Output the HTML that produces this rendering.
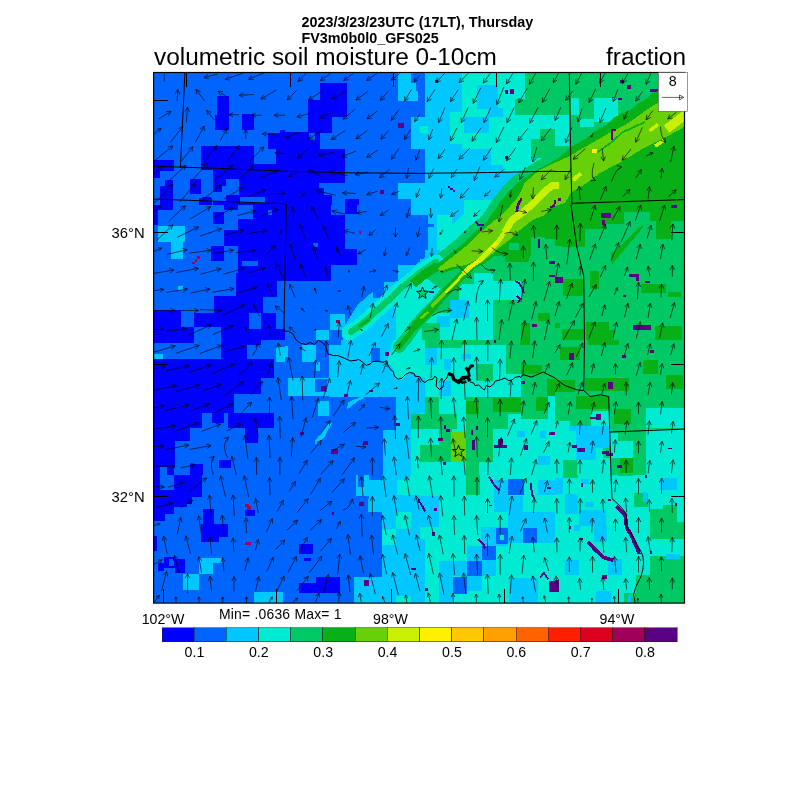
<!DOCTYPE html>
<html lang="en"><head><meta charset="utf-8"><title>volumetric soil moisture 0-10cm</title>
<style>
html,body{margin:0;padding:0;background:#fff;}
svg{display:block;font-family:"Liberation Sans",Arial,Helvetica,sans-serif;}
.t1{font-weight:bold;font-size:14.35px;}
.t2{font-size:24.4px;}
.lb{font-size:14.2px;}.ll{font-size:14.8px;}
</style></head><body>
<svg width="800" height="800" viewBox="0 0 800 800">
<rect width="800" height="800" fill="#fff"/>

<defs><clipPath id="mc"><rect x="153.5" y="72.5" width="531" height="530.5"/></clipPath></defs>
<g clip-path="url(#mc)" shape-rendering="crispEdges">
<rect x="150" y="70" width="135" height="135" fill="#0064ff"/>
<rect x="217.16" y="96.16" width="11.81" height="33.75" fill="#0000ff"/>
<rect x="214.97" y="114.72" width="2.53" height="15.19" fill="#0000ff"/>
<rect x="241.97" y="114.21" width="11.81" height="15.70" fill="#0000ff"/>
<rect x="201.13" y="146.28" width="52.65" height="23.28" fill="#0000ff"/>
<rect x="268.12" y="133.28" width="16.88" height="16.03" fill="#0000ff"/>
<rect x="279.94" y="129.91" width="5.06" height="3.37" fill="#0000ff"/>
<rect x="275.72" y="149.31" width="9.28" height="20.25" fill="#0000ff"/>
<rect x="253.78" y="163.66" width="21.94" height="5.90" fill="#0000ff"/>
<rect x="154.22" y="160.28" width="19.40" height="10.97" fill="#0000ff"/>
<rect x="154.22" y="171.25" width="5.90" height="6.75" fill="#0000ff"/>
<rect x="160.12" y="179.69" width="12.66" height="25.31" fill="#0000ff"/>
<rect x="212.94" y="169.56" width="72.06" height="35.44" fill="#0000ff"/>
<rect x="212.94" y="186.44" width="13.00" height="14.34" fill="#0064ff"/>
<rect x="225.94" y="178.84" width="12.65" height="16.04" fill="#0064ff"/>
<rect x="240.28" y="196.9" width="24.47" height="6.41" fill="#0064ff"/>
<rect x="189.66" y="178.84" width="10.96" height="15.19" fill="#0000ff"/>
<rect x="213.28" y="185.59" width="8.44" height="6.75" fill="#0000ff"/>
<rect x="202.31" y="197.41" width="8.44" height="5.90" fill="#0000ff"/>
<rect x="198.94" y="198.25" width="13.50" height="6.75" fill="#0000ff"/>
<rect x="160.12" y="179.69" width="5.07" height="6.75" fill="#0064ff"/>
<rect x="269.81" y="151" width="5.91" height="11.81" fill="#0064ff"/>
<rect x="285" y="70" width="135" height="135" fill="#0064ff"/>
<rect x="319.93" y="83.16" width="27.17" height="16.37" fill="#0000ff"/>
<rect x="308.12" y="99.53" width="38.98" height="17.72" fill="#0000ff"/>
<rect x="308.12" y="117.25" width="23.79" height="16.03" fill="#0000ff"/>
<rect x="285" y="131.59" width="23.12" height="73.41" fill="#0000ff"/>
<rect x="308.12" y="133.28" width="11.81" height="16.03" fill="#0000ff"/>
<rect x="308.12" y="149.31" width="36.79" height="33.75" fill="#0000ff"/>
<rect x="285" y="183.06" width="33.75" height="21.94" fill="#0000ff"/>
<rect x="318.75" y="188.12" width="5.06" height="16.88" fill="#0000ff"/>
<rect x="323.81" y="194.88" width="8.44" height="10.12" fill="#0000ff"/>
<rect x="344.91" y="199.09" width="14.34" height="5.91" fill="#0000ff"/>
<rect x="397.73" y="73.04" width="12.99" height="28.18" fill="#00c8ff"/>
<rect x="410.72" y="83.16" width="5.06" height="18.06" fill="#00c8ff"/>
<rect x="415.78" y="91.09" width="2.53" height="10.13" fill="#00c8ff"/>
<rect x="410.72" y="117.25" width="9.28" height="31.72" fill="#00c8ff"/>
<rect x="397.73" y="183.06" width="22.27" height="16.03" fill="#00c8ff"/>
<rect x="410.72" y="199.09" width="9.28" height="5.91" fill="#00c8ff"/>
<rect x="398.06" y="123.16" width="5.91" height="5.06" fill="#5a0082"/>
<rect x="379.84" y="190.15" width="3.88" height="3.88" fill="#5a0082"/>
<rect x="308.62" y="133.28" width="6.76" height="6.75" fill="#0064ff"/>
<rect x="420" y="70" width="135" height="135" fill="#00c8ff"/>
<rect x="420" y="73.04" width="5.06" height="44.21" fill="#0064ff"/>
<rect x="420" y="149.31" width="5.06" height="33.75" fill="#0064ff"/>
<rect x="461.85" y="73.04" width="93.15" height="98.21" fill="#00ebd2"/>
<rect x="476.53" y="85.19" width="21.94" height="23.62" fill="#00c8ff"/>
<rect x="487.5" y="107.97" width="15.19" height="9.28" fill="#00c8ff"/>
<rect x="464.21" y="117.25" width="24.64" height="16.03" fill="#00c8ff"/>
<rect x="458.81" y="149.31" width="32.07" height="21.94" fill="#00c8ff"/>
<rect x="490.88" y="164.5" width="11.81" height="18.56" fill="#00c8ff"/>
<rect x="450.38" y="112.19" width="13.83" height="32.06" fill="#00ebd2"/>
<rect x="420" y="125.69" width="7.59" height="7.59" fill="#00ebd2"/>
<rect x="464.21" y="199.94" width="26.67" height="5.06" fill="#00ebd2"/>
<rect x="524.62" y="73.04" width="30.38" height="25.65" fill="#00c864"/>
<rect x="515.34" y="98.69" width="39.66" height="16.03" fill="#00c864"/>
<rect x="530.53" y="139.19" width="24.47" height="18.56" fill="#00c864"/>
<rect x="539.81" y="129.06" width="15.19" height="10.13" fill="#00c864"/>
<rect x="435.19" y="80.12" width="3.04" height="3.04" fill="#5a0082"/>
<rect x="505.22" y="90.25" width="2.53" height="3.37" fill="#5a0082"/>
<rect x="510.28" y="89.41" width="3.38" height="4.21" fill="#5a0082"/>
<rect x="505.22" y="156.06" width="2.87" height="2.53" fill="#5a0082"/>
<rect x="447.84" y="186.44" width="2.54" height="1.68" fill="#5a0082"/>
<rect x="450.38" y="188.12" width="2.53" height="2.03" fill="#5a0082"/>
<rect x="452.91" y="189.81" width="2.19" height="2.03" fill="#5a0082"/>
<rect x="555" y="70" width="135" height="135" fill="#00c864"/>
<rect x="571.03" y="97.84" width="8.44" height="16.88" fill="#00ebd2"/>
<rect x="593.81" y="97.84" width="24.47" height="24.47" fill="#00ebd2"/>
<rect x="555" y="114.72" width="13.50" height="31.22" fill="#00ebd2"/>
<rect x="580.31" y="118.94" width="13.50" height="8.44" fill="#00ebd2"/>
<rect x="619.97" y="80.12" width="4.22" height="2.54" fill="#5a0082"/>
<rect x="626.72" y="85.19" width="4.22" height="3.37" fill="#5a0082"/>
<rect x="650.34" y="89.41" width="7.60" height="2.53" fill="#5a0082"/>
<rect x="618.28" y="97.84" width="3.38" height="2.54" fill="#5a0082"/>
<rect x="150" y="205" width="135" height="135" fill="#0064ff"/>
<rect x="154.22" y="205" width="18.56" height="5.06" fill="#0000ff"/>
<rect x="154.22" y="210.06" width="3.37" height="15.19" fill="#0000ff"/>
<rect x="224.25" y="205" width="13.50" height="5.06" fill="#0000ff"/>
<rect x="213.28" y="211.75" width="10.97" height="11.81" fill="#0000ff"/>
<rect x="252.94" y="205" width="32.06" height="13.50" fill="#0000ff"/>
<rect x="237.75" y="218.5" width="47.25" height="62.44" fill="#0000ff"/>
<rect x="224.25" y="230.31" width="13.50" height="15.19" fill="#0000ff"/>
<rect x="210.75" y="245.5" width="13.50" height="15.19" fill="#0000ff"/>
<rect x="241.97" y="260.69" width="16.03" height="5.06" fill="#0064ff"/>
<rect x="236.06" y="272.5" width="48.94" height="40.50" fill="#0000ff"/>
<rect x="214.12" y="296.12" width="21.94" height="16.88" fill="#0000ff"/>
<rect x="154.22" y="309.62" width="27.00" height="30.38" fill="#0000ff"/>
<rect x="193.88" y="313" width="55.68" height="13.50" fill="#0000ff"/>
<rect x="220.88" y="326.5" width="40.50" height="13.50" fill="#0000ff"/>
<rect x="181.22" y="326.5" width="12.66" height="13.50" fill="#0000ff"/>
<rect x="261.38" y="313" width="14.34" height="16.03" fill="#0000ff"/>
<rect x="276.56" y="280.94" width="8.44" height="32.06" fill="#0064ff"/>
<rect x="263.06" y="296.97" width="13.50" height="16.03" fill="#0064ff"/>
<rect x="248.72" y="313" width="12.66" height="16.03" fill="#0064ff"/>
<rect x="275.72" y="313" width="9.28" height="16.88" fill="#0064ff"/>
<rect x="261.38" y="329.03" width="23.62" height="10.97" fill="#0000ff"/>
<rect x="157.59" y="226.09" width="27.34" height="16.03" fill="#00c8ff"/>
<rect x="171.09" y="242.12" width="11.82" height="16.88" fill="#00c8ff"/>
<rect x="177.84" y="286" width="5.07" height="4.22" fill="#00c8ff"/>
<rect x="197.25" y="256.47" width="2.53" height="2.53" fill="#a0005a"/>
<rect x="194.72" y="259" width="2.53" height="2.53" fill="#a0005a"/>
<rect x="191.85" y="262.04" width="2.87" height="2.36" fill="#a0005a"/>
<rect x="268.12" y="210.06" width="4.22" height="5.06" fill="#0064ff"/>
<rect x="285" y="205" width="135" height="135" fill="#0064ff"/>
<rect x="285" y="205" width="46.41" height="75.94" fill="#0000ff"/>
<rect x="331.41" y="215.12" width="13.50" height="49.79" fill="#0000ff"/>
<rect x="344.91" y="248.88" width="12.32" height="16.03" fill="#0000ff"/>
<rect x="344.91" y="205" width="12.32" height="9.28" fill="#0000ff"/>
<rect x="312.84" y="243.47" width="5.07" height="3.38" fill="#0064ff"/>
<rect x="410.72" y="205" width="9.28" height="10.12" fill="#00c8ff"/>
<rect x="397.73" y="264.91" width="22.27" height="17.71" fill="#00c8ff"/>
<rect x="384.56" y="282.62" width="13.50" height="14.35" fill="#00c8ff"/>
<rect x="329.72" y="313.84" width="15.19" height="16.04" fill="#00c8ff"/>
<rect x="316.22" y="329.88" width="12.66" height="10.12" fill="#00c8ff"/>
<rect x="358.91" y="230.82" width="2.03" height="3.21" fill="#a0005a"/>
<rect x="335.96" y="320.09" width="4.39" height="2.70" fill="#a0005a"/>
<rect x="420" y="205" width="135" height="135" fill="#00c864"/>
<polygon points="420,205 492.56,205 484.12,223.56 470.62,238.75 453.75,248.88 436.88,260.69 420,269.12" fill="#00c8ff"/>
<rect x="420" y="215.12" width="7.59" height="43.88" fill="#0064ff"/>
<rect x="427.59" y="223.56" width="6.75" height="3.38" fill="#0064ff"/>
<rect x="436.88" y="215.12" width="15.18" height="45.57" fill="#00ebd2"/>
<rect x="463.88" y="205" width="28.68" height="10.12" fill="#00ebd2"/>
<rect x="463.88" y="215.12" width="11.81" height="23.63" fill="#00ebd2"/>
<polygon points="420,260.69 453.75,247.19 475.69,226.94 487.5,215.12 492.56,215.12 475.69,238.75 453.75,253.94 420,272.5" fill="#00ebd2"/>
<rect x="492.56" y="280.94" width="28.69" height="18.56" fill="#00ebd2"/>
<rect x="458.81" y="284.31" width="33.75" height="55.69" fill="#00ebd2"/>
<rect x="420" y="313" width="38.81" height="27.00" fill="#00ebd2"/>
<rect x="450.38" y="299.5" width="18.56" height="18.56" fill="#00c8ff"/>
<rect x="474" y="272.5" width="18.56" height="11.81" fill="#00ebd2"/>
<rect x="436.88" y="316.38" width="13.50" height="10.12" fill="#00c8ff"/>
<rect x="521.25" y="323.12" width="8.44" height="16.88" fill="#06b016"/>
<rect x="538.12" y="313" width="11.82" height="7.59" fill="#06b016"/>
<rect x="528" y="215.12" width="27.00" height="23.63" fill="#06b016"/>
<rect x="521.25" y="221.88" width="16.87" height="25.31" fill="#06b016"/>
<rect x="420" y="323.12" width="20.25" height="16.88" fill="#00c864"/>
<rect x="555" y="205" width="135" height="135" fill="#00c864"/>
<rect x="555" y="205" width="129.60" height="6.75" fill="#06b016"/>
<rect x="555" y="211.75" width="69.19" height="11.81" fill="#06b016"/>
<rect x="555" y="223.56" width="50.62" height="5.91" fill="#06b016"/>
<rect x="555" y="229.47" width="30.38" height="17.72" fill="#06b016"/>
<rect x="555" y="247.19" width="6.75" height="13.50" fill="#06b016"/>
<rect x="649.5" y="211.75" width="35.10" height="9.28" fill="#06b016"/>
<rect x="656.25" y="221.03" width="15.19" height="17.72" fill="#06b016"/>
<polygon points="610.69,260.69 610.69,253.94 622.5,243.81 642.75,224.41 642.75,227.78 629.25,243.81 612.38,264.06" fill="#06b016"/>
<rect x="590.44" y="270.81" width="8.44" height="18.57" fill="#06b016"/>
<rect x="563.44" y="279.25" width="20.25" height="16.87" fill="#06b016"/>
<rect x="641.06" y="284.31" width="24.47" height="8.44" fill="#06b016"/>
<rect x="668.06" y="291.91" width="12.66" height="5.06" fill="#06b016"/>
<rect x="561.75" y="329.03" width="21.94" height="10.97" fill="#06b016"/>
<rect x="586.22" y="322.28" width="22.78" height="7.60" fill="#06b016"/>
<rect x="586.22" y="329.88" width="27.84" height="10.12" fill="#06b016"/>
<rect x="654.56" y="325.66" width="27.00" height="14.34" fill="#06b016"/>
<rect x="555" y="323.12" width="5.06" height="5.07" fill="#06b016"/>
<rect x="601.41" y="212.59" width="9.28" height="5.07" fill="#5a0082"/>
<rect x="602.25" y="220.19" width="2.53" height="5.06" fill="#5a0082"/>
<rect x="555" y="276.72" width="7.59" height="6.75" fill="#5a0082"/>
<rect x="629.25" y="274.19" width="10.13" height="2.53" fill="#5a0082"/>
<rect x="636" y="276.72" width="3.38" height="4.22" fill="#5a0082"/>
<rect x="645.28" y="280.94" width="5.06" height="2.53" fill="#5a0082"/>
<rect x="622.5" y="295.28" width="3.38" height="1.69" fill="#5a0082"/>
<rect x="633.47" y="324.81" width="17.72" height="5.07" fill="#5a0082"/>
<rect x="671.44" y="205" width="5.06" height="2.53" fill="#5a0082"/>
<rect x="150" y="340" width="135" height="135" fill="#0064ff"/>
<rect x="154.22" y="340" width="39.66" height="3.04" fill="#0000ff"/>
<rect x="220.88" y="340" width="40.50" height="21.94" fill="#0000ff"/>
<rect x="247.03" y="345.06" width="14.35" height="16.88" fill="#0064ff"/>
<rect x="154.22" y="358.56" width="119.81" height="35.44" fill="#0000ff"/>
<rect x="260.53" y="377.97" width="13.50" height="16.03" fill="#0064ff"/>
<rect x="154.22" y="394" width="79.31" height="18.56" fill="#0000ff"/>
<rect x="154.22" y="412.56" width="48.09" height="15.19" fill="#0000ff"/>
<rect x="154.22" y="427.75" width="35.44" height="13.50" fill="#0000ff"/>
<rect x="154.22" y="441.25" width="21.09" height="33.75" fill="#0000ff"/>
<rect x="227.62" y="412.56" width="46.41" height="15.19" fill="#0000ff"/>
<rect x="245.34" y="427.75" width="12.66" height="15.19" fill="#0000ff"/>
<rect x="212.44" y="412.56" width="11.81" height="10.13" fill="#0000ff"/>
<rect x="219.19" y="459.81" width="11.81" height="8.44" fill="#0000ff"/>
<rect x="189.66" y="464.03" width="13.50" height="10.97" fill="#0000ff"/>
<rect x="173.62" y="468.25" width="16.04" height="6.75" fill="#0064ff"/>
<rect x="160.12" y="466.56" width="6.76" height="8.44" fill="#0064ff"/>
<rect x="275.72" y="346.75" width="9.28" height="15.19" fill="#00c8ff"/>
<rect x="154.22" y="354.34" width="8.44" height="4.22" fill="#00c8ff"/>
<rect x="285" y="340" width="135" height="135" fill="#0064ff"/>
<rect x="328.88" y="340" width="67.50" height="56.53" fill="#00c8ff"/>
<rect x="396.38" y="340" width="23.62" height="135.00" fill="#00c8ff"/>
<rect x="288.38" y="377.97" width="40.50" height="17.72" fill="#00c8ff"/>
<rect x="301.88" y="345.06" width="14.34" height="16.88" fill="#00c8ff"/>
<rect x="316.22" y="361.94" width="4.22" height="9.28" fill="#00c8ff"/>
<rect x="382.88" y="430.28" width="13.50" height="44.72" fill="#00c8ff"/>
<rect x="285" y="345.91" width="3.38" height="10.97" fill="#00c8ff"/>
<rect x="315.38" y="378.81" width="11.81" height="13.50" fill="#0064ff"/>
<rect x="371.06" y="348.44" width="8.44" height="13.50" fill="#0064ff"/>
<rect x="328.88" y="340" width="11.81" height="5.06" fill="#0064ff"/>
<polygon points="346.59,410.03 348.28,402.44 366,394 379.5,383.03 386.25,396.53 366,396.53 355.88,402.44" fill="#00c8ff"/>
<polygon points="315.38,444.62 315.38,440.41 327.19,424.38 332.25,422.69 323.81,437.88" fill="#00c8ff"/>
<rect x="317.91" y="400.75" width="10.97" height="15.19" fill="#00c8ff"/>
<polygon points="393,340 420,340 420,376.28 409.88,372.06 401.44,379.66 394.69,377.12 393,367 386.25,361.94 389.62,353.5" fill="#00ebd2"/>
<rect x="410.72" y="429.44" width="9.28" height="45.56" fill="#00ebd2"/>
<rect x="411.23" y="414.25" width="8.77" height="15.19" fill="#00c864"/>
<rect x="331.41" y="448.84" width="6.75" height="5.07" fill="#5a0082"/>
<rect x="363.47" y="441.25" width="4.22" height="3.37" fill="#5a0082"/>
<rect x="384.56" y="351.81" width="4.22" height="4.22" fill="#5a0082"/>
<rect x="321.28" y="386.41" width="5.06" height="4.21" fill="#5a0082"/>
<rect x="344.06" y="394" width="4.22" height="2.53" fill="#5a0082"/>
<rect x="369.38" y="389.78" width="3.37" height="2.53" fill="#5a0082"/>
<rect x="396.38" y="422.69" width="3.37" height="3.37" fill="#5a0082"/>
<rect x="300.19" y="431.97" width="3.37" height="2.53" fill="#5a0082"/>
<rect x="420" y="340" width="135" height="135" fill="#00ebd2"/>
<rect x="425.06" y="340" width="37.13" height="7.59" fill="#00c864"/>
<rect x="462.19" y="340" width="43.87" height="5.06" fill="#00c864"/>
<rect x="506.06" y="340" width="48.94" height="25.31" fill="#00c864"/>
<rect x="477.38" y="363.62" width="15.18" height="16.88" fill="#00c864"/>
<rect x="521.25" y="365.31" width="33.75" height="30.38" fill="#00c864"/>
<rect x="506.06" y="365.31" width="15.19" height="8.44" fill="#00c864"/>
<rect x="425.06" y="396.53" width="13.50" height="17.72" fill="#00c864"/>
<rect x="420" y="414.25" width="37.12" height="15.19" fill="#00c864"/>
<rect x="438.56" y="429.44" width="13.50" height="32.06" fill="#00c864"/>
<rect x="420" y="444.62" width="18.56" height="16.88" fill="#00c864"/>
<rect x="465.56" y="396.53" width="27.00" height="64.97" fill="#00c864"/>
<rect x="492.56" y="396.53" width="28.69" height="17.72" fill="#00c864"/>
<rect x="465.56" y="461.5" width="13.50" height="13.50" fill="#00c864"/>
<rect x="492.56" y="414.25" width="15.19" height="15.19" fill="#00c864"/>
<rect x="521.25" y="395.69" width="27.00" height="23.62" fill="#00c864"/>
<rect x="466.41" y="400.75" width="12.65" height="13.50" fill="#06b016"/>
<rect x="492.56" y="396.53" width="28.69" height="15.19" fill="#06b016"/>
<rect x="535.59" y="396.53" width="12.66" height="14.35" fill="#06b016"/>
<rect x="521.25" y="365.31" width="20.25" height="8.44" fill="#06b016"/>
<rect x="547.41" y="378.81" width="7.59" height="16.88" fill="#06b016"/>
<rect x="519.56" y="340" width="10.13" height="5.06" fill="#06b016"/>
<rect x="451.22" y="431.97" width="14.34" height="29.53" fill="#68d008"/>
<rect x="425.06" y="348.44" width="11.82" height="16.87" fill="#00c8ff"/>
<rect x="443.62" y="358.56" width="7.60" height="11.82" fill="#00c8ff"/>
<rect x="420" y="377.97" width="5.06" height="35.44" fill="#00c8ff"/>
<rect x="438.56" y="380.5" width="12.66" height="15.19" fill="#00c8ff"/>
<rect x="460.5" y="353.5" width="10.12" height="5.06" fill="#00c8ff"/>
<rect x="538.12" y="456.44" width="11.82" height="8.44" fill="#00c8ff"/>
<rect x="517.03" y="431.12" width="7.59" height="5.91" fill="#00c8ff"/>
<rect x="539.81" y="431.12" width="5.91" height="6.76" fill="#00c8ff"/>
<rect x="444.47" y="425.22" width="1.69" height="4.22" fill="#5a0082"/>
<rect x="446.16" y="428.59" width="4.22" height="3.89" fill="#5a0082"/>
<rect x="437.72" y="437.88" width="5.06" height="3.03" fill="#5a0082"/>
<rect x="471.47" y="430.28" width="1.69" height="4.22" fill="#5a0082"/>
<rect x="475.69" y="426.06" width="2.53" height="4.22" fill="#5a0082"/>
<rect x="472.31" y="439.56" width="2.53" height="10.13" fill="#5a0082"/>
<rect x="494.25" y="445.47" width="12.66" height="2.53" fill="#5a0082"/>
<rect x="498.47" y="438.72" width="4.22" height="6.75" fill="#5a0082"/>
<rect x="521.25" y="381.34" width="4.22" height="2.54" fill="#5a0082"/>
<rect x="523.78" y="445.47" width="4.22" height="4.22" fill="#5a0082"/>
<rect x="549.09" y="432.48" width="5.91" height="2.02" fill="#5a0082"/>
<rect x="494.25" y="340" width="1.69" height="2.53" fill="#5a0082"/>
<rect x="442.78" y="462.34" width="3.38" height="2.54" fill="#5a0082"/>
<rect x="555" y="340" width="135" height="135" fill="#00c864"/>
<rect x="587.91" y="340" width="31.21" height="5.06" fill="#06b016"/>
<rect x="560.06" y="346.75" width="20.25" height="13.50" fill="#06b016"/>
<rect x="585.38" y="377.97" width="43.87" height="12.65" fill="#06b016"/>
<rect x="555" y="379.66" width="20.25" height="12.65" fill="#06b016"/>
<rect x="576.09" y="395.69" width="32.91" height="13.50" fill="#06b016"/>
<rect x="614.06" y="409.19" width="16.88" height="15.19" fill="#06b016"/>
<rect x="642.75" y="360.25" width="15.19" height="13.50" fill="#06b016"/>
<rect x="666.38" y="375.44" width="16.87" height="13.50" fill="#06b016"/>
<rect x="619.97" y="458.12" width="12.65" height="15.19" fill="#06b016"/>
<rect x="555" y="427.75" width="55.69" height="47.25" fill="#00ebd2"/>
<rect x="591.28" y="410.88" width="17.72" height="16.87" fill="#00ebd2"/>
<rect x="646.12" y="407.5" width="38.48" height="20.25" fill="#00ebd2"/>
<rect x="646.12" y="429.44" width="38.48" height="45.56" fill="#00ebd2"/>
<rect x="610.69" y="432.81" width="7.59" height="25.31" fill="#00ebd2"/>
<rect x="618.28" y="441.25" width="14.34" height="16.87" fill="#00ebd2"/>
<rect x="555" y="421" width="15.19" height="6.75" fill="#00ebd2"/>
<rect x="563.44" y="459.81" width="13.50" height="15.19" fill="#00c864"/>
<rect x="603.09" y="442.94" width="7.60" height="15.18" fill="#00c864"/>
<rect x="569.34" y="426.06" width="39.66" height="5.06" fill="#00c8ff"/>
<rect x="576.09" y="431.12" width="32.91" height="16.88" fill="#00c8ff"/>
<rect x="576.09" y="448" width="20.25" height="11.81" fill="#00c8ff"/>
<rect x="569.34" y="352.66" width="4.22" height="7.59" fill="#5a0082"/>
<rect x="621.66" y="355.19" width="4.22" height="3.04" fill="#5a0082"/>
<rect x="649.5" y="350.12" width="4.22" height="2.54" fill="#5a0082"/>
<rect x="608.16" y="382.19" width="5.06" height="6.75" fill="#5a0082"/>
<rect x="590.44" y="416.78" width="6.75" height="2.53" fill="#5a0082"/>
<rect x="595.5" y="414.25" width="5.91" height="5.91" fill="#5a0082"/>
<rect x="571.88" y="444.62" width="5.06" height="3.38" fill="#5a0082"/>
<rect x="576.94" y="448" width="7.59" height="4.22" fill="#5a0082"/>
<rect x="602.25" y="451.38" width="6.75" height="2.53" fill="#5a0082"/>
<rect x="606.47" y="453.06" width="6.75" height="3.38" fill="#5a0082"/>
<rect x="617.44" y="464.88" width="4.22" height="3.37" fill="#5a0082"/>
<rect x="668.06" y="447.66" width="3.71" height="1.35" fill="#5a0082"/>
<rect x="150" y="475" width="135" height="135" fill="#0064ff"/>
<rect x="154.22" y="475" width="5.90" height="15.19" fill="#0000ff"/>
<rect x="174.47" y="475" width="27.84" height="21.94" fill="#0000ff"/>
<rect x="154.22" y="490.19" width="32.90" height="16.87" fill="#0000ff"/>
<rect x="154.22" y="507.06" width="19.40" height="6.75" fill="#0000ff"/>
<rect x="154.22" y="513.81" width="10.97" height="6.75" fill="#0000ff"/>
<rect x="187.12" y="496.94" width="5.07" height="6.75" fill="#0000ff"/>
<rect x="203.16" y="508.75" width="10.96" height="15.19" fill="#0000ff"/>
<rect x="200.62" y="523.94" width="27.00" height="13.50" fill="#0000ff"/>
<rect x="201.47" y="537.44" width="17.72" height="4.22" fill="#0000ff"/>
<rect x="244.5" y="509.59" width="10.12" height="5.91" fill="#0000ff"/>
<rect x="164.34" y="556.84" width="10.97" height="10.97" fill="#0000ff"/>
<rect x="175.31" y="559.38" width="9.28" height="13.50" fill="#0000ff"/>
<rect x="157.59" y="562.75" width="6.75" height="8.44" fill="#0000ff"/>
<rect x="168.56" y="559.38" width="4.22" height="4.21" fill="#0064ff"/>
<rect x="154.22" y="535.75" width="2.53" height="15.19" fill="#0000ff"/>
<rect x="168.56" y="561.06" width="5.06" height="5.06" fill="#0064ff"/>
<rect x="198.94" y="557.69" width="14.34" height="16.03" fill="#00c8ff"/>
<rect x="213.28" y="557.69" width="8.44" height="5.06" fill="#00c8ff"/>
<rect x="182.91" y="574.06" width="16.03" height="15.69" fill="#00c8ff"/>
<rect x="253.78" y="592.28" width="29.53" height="10.97" fill="#00c8ff"/>
<rect x="244.5" y="503.69" width="4.22" height="3.37" fill="#a0005a"/>
<rect x="247.03" y="506.22" width="4.22" height="3.37" fill="#a0005a"/>
<rect x="245.34" y="542.16" width="5.40" height="2.36" fill="#a0005a"/>
<rect x="285" y="475" width="135" height="135" fill="#0064ff"/>
<rect x="299.34" y="544.19" width="13.50" height="10.12" fill="#0000ff"/>
<rect x="304.41" y="557.69" width="6.75" height="3.37" fill="#0000ff"/>
<rect x="299.34" y="583" width="40.50" height="10.12" fill="#0000ff"/>
<rect x="316.22" y="577.09" width="23.62" height="5.91" fill="#0000ff"/>
<rect x="355.88" y="475" width="13.50" height="21.09" fill="#00c8ff"/>
<rect x="369.38" y="480.06" width="50.62" height="32.06" fill="#00c8ff"/>
<rect x="382.03" y="475" width="27.85" height="5.06" fill="#00c8ff"/>
<rect x="367.69" y="498.62" width="52.31" height="13.50" fill="#00c8ff"/>
<rect x="382.03" y="512.12" width="37.97" height="91.13" fill="#00c8ff"/>
<rect x="354.19" y="577.09" width="27.84" height="26.16" fill="#00c8ff"/>
<rect x="358.41" y="475" width="5.90" height="11.81" fill="#0064ff"/>
<rect x="409.88" y="475" width="10.12" height="20.25" fill="#00ebd2"/>
<rect x="397.22" y="480.06" width="12.66" height="15.19" fill="#00ebd2"/>
<rect x="396.38" y="512.12" width="14.34" height="16.88" fill="#00ebd2"/>
<rect x="382.03" y="529" width="14.35" height="16.03" fill="#00ebd2"/>
<rect x="396.38" y="595.66" width="14.34" height="7.59" fill="#00ebd2"/>
<rect x="359.25" y="502" width="4.73" height="4.22" fill="#5a0082"/>
<rect x="332.25" y="512.12" width="2.02" height="3.04" fill="#5a0082"/>
<rect x="364.31" y="579.62" width="5.07" height="5.91" fill="#5a0082"/>
<rect x="411.23" y="567.81" width="4.55" height="2.03" fill="#5a0082"/>
<rect x="418.31" y="499.47" width="1.69" height="3.37" fill="#5a0082"/>
<rect x="420" y="475" width="135" height="135" fill="#00ebd2"/>
<rect x="420" y="496.09" width="18.56" height="31.22" fill="#00c8ff"/>
<rect x="420" y="539.12" width="5.06" height="64.13" fill="#00c8ff"/>
<rect x="494.25" y="480.06" width="13.50" height="32.06" fill="#00c8ff"/>
<rect x="507.75" y="496.09" width="15.19" height="16.03" fill="#00c8ff"/>
<rect x="507.75" y="512.12" width="47.25" height="15.19" fill="#00c8ff"/>
<rect x="480.75" y="527.31" width="27.00" height="18.57" fill="#00c8ff"/>
<rect x="467.25" y="545.88" width="28.69" height="15.18" fill="#00c8ff"/>
<rect x="438.56" y="561.06" width="43.88" height="15.19" fill="#00c8ff"/>
<rect x="438.56" y="576.25" width="14.35" height="27.00" fill="#00c8ff"/>
<rect x="481.59" y="561.06" width="14.35" height="15.19" fill="#00c8ff"/>
<rect x="507.75" y="527.31" width="47.25" height="15.19" fill="#00c8ff"/>
<rect x="538.12" y="480.06" width="16.88" height="15.19" fill="#00c8ff"/>
<rect x="508.59" y="577.94" width="29.53" height="25.31" fill="#00c8ff"/>
<rect x="467.25" y="576.25" width="15.19" height="15.19" fill="#00c8ff"/>
<rect x="507.75" y="479.22" width="16.03" height="16.03" fill="#0064ff"/>
<rect x="495.94" y="528.16" width="11.81" height="16.03" fill="#0064ff"/>
<rect x="482.44" y="545.88" width="13.50" height="14.34" fill="#0064ff"/>
<rect x="467.25" y="561.06" width="14.34" height="15.19" fill="#0064ff"/>
<rect x="452.91" y="577.09" width="14.00" height="17.39" fill="#0064ff"/>
<rect x="522.94" y="528.16" width="13.83" height="14.34" fill="#0064ff"/>
<rect x="500.16" y="534.91" width="4.22" height="5.06" fill="#00ebd2"/>
<rect x="466.41" y="475" width="13.50" height="20.25" fill="#00c864"/>
<polyline points="489.19,476.69 494.25,485.12 499.31,490.19" fill="none" stroke="#5a0082" stroke-width="2.02" stroke-linejoin="round"/>
<polyline points="530.53,483.44 532.22,495.25 534.75,498.62" fill="none" stroke="#5a0082" stroke-width="2.02" stroke-linejoin="round"/>
<polyline points="420,502 425.06,511.28" fill="none" stroke="#5a0082" stroke-width="2.02" stroke-linejoin="round"/>
<rect x="434.34" y="507.91" width="2.54" height="3.37" fill="#5a0082"/>
<rect x="431.81" y="531.53" width="3.38" height="4.22" fill="#5a0082"/>
<polyline points="478.22,538.79 483.28,544.19 484.97,548.41" fill="none" stroke="#5a0082" stroke-width="2.36" stroke-linejoin="round"/>
<rect x="549.09" y="581.31" width="5.91" height="10.97" fill="#5a0082"/>
<polyline points="539.81,577.6 544.03,572.88 548.25,579.62" fill="none" stroke="#5a0082" stroke-width="1.69" stroke-linejoin="round"/>
<rect x="425.06" y="588.06" width="3.04" height="3.38" fill="#5a0082"/>
<rect x="546.56" y="486.81" width="4.22" height="1.69" fill="#5a0082"/>
<rect x="489.19" y="504.87" width="3.04" height="1.18" fill="#5a0082"/>
<rect x="555" y="475" width="135" height="135" fill="#00ebd2"/>
<rect x="634.31" y="492.72" width="13.50" height="14.34" fill="#00c864"/>
<rect x="649.5" y="508.75" width="35.10" height="30.37" fill="#00c864"/>
<rect x="663" y="505.38" width="13.50" height="16.87" fill="#00c864"/>
<rect x="649.5" y="556" width="35.10" height="47.25" fill="#00c864"/>
<rect x="636" y="574.56" width="13.50" height="28.69" fill="#00c864"/>
<rect x="624.19" y="593.12" width="11.81" height="10.13" fill="#00c864"/>
<rect x="563.44" y="475" width="14.34" height="2.53" fill="#00c864"/>
<rect x="618.28" y="475" width="14.34" height="1.35" fill="#00c864"/>
<rect x="555" y="478.38" width="7.59" height="15.18" fill="#00c8ff"/>
<rect x="565.12" y="493.56" width="12.66" height="20.25" fill="#00c8ff"/>
<rect x="578.62" y="510.44" width="27.00" height="15.18" fill="#00c8ff"/>
<rect x="593.81" y="525.62" width="13.50" height="16.04" fill="#00c8ff"/>
<rect x="565.12" y="560.22" width="13.50" height="14.34" fill="#00c8ff"/>
<rect x="608.16" y="559.38" width="13.50" height="15.18" fill="#00c8ff"/>
<rect x="595.5" y="591.44" width="15.19" height="11.81" fill="#00c8ff"/>
<rect x="659.62" y="478.38" width="16.88" height="11.81" fill="#00c8ff"/>
<rect x="666.38" y="554.31" width="13.50" height="5.07" fill="#00c8ff"/>
<rect x="642.75" y="491.88" width="4.22" height="10.12" fill="#00c8ff"/>
<rect x="581.16" y="479.22" width="7.59" height="5.06" fill="#00c8ff"/>
<rect x="585.38" y="502" width="8.43" height="5.06" fill="#00c8ff"/>
<rect x="574.41" y="524.78" width="5.90" height="5.91" fill="#00c8ff"/>
<rect x="627.56" y="594.81" width="3.38" height="8.44" fill="#00c8ff"/>
<rect x="676.5" y="508.75" width="8.10" height="13.50" fill="#00ebd2"/>
<polyline points="587.91,541.66 595.5,550.09 603.94,557.69 613.22,560.22" fill="none" stroke="#5a0082" stroke-width="3.71" stroke-linejoin="round"/>
<polyline points="616.59,506.22 625.03,514.66 626.72,527.31 631.78,536.59 637.69,549.25 638.87,553.98" fill="none" stroke="#5a0082" stroke-width="3.71" stroke-linejoin="round"/>
<rect x="555" y="579.62" width="4.22" height="12.66" fill="#5a0082"/>
<rect x="602.25" y="574.56" width="5.06" height="4.22" fill="#5a0082"/>
<rect x="578.62" y="537.94" width="4.22" height="2.03" fill="#5a0082"/>
<rect x="608.16" y="499.13" width="2.86" height="2.03" fill="#5a0082"/>
<rect x="581.16" y="483.1" width="1.68" height="3.71" fill="#5a0082"/>
<rect x="645.28" y="475" width="1.69" height="2.53" fill="#5a0082"/>
<rect x="675.15" y="503.35" width="1.69" height="2.53" fill="#5a0082"/>
<rect x="569.34" y="526.13" width="2.03" height="2.87" fill="#5a0082"/>
<rect x="650.01" y="551.27" width="2.02" height="2.54" fill="#5a0082"/>
<polygon points="425,250 425,257.5 415,265 397.5,265 397.5,281.25 383.75,282.5 383.75,297.5 373.12,297.5 373.12,291.25 357.5,305 345,325 345,315 340,315 340,330 342.5,330 342.5,340 397.5,340 397.5,300 440,262.5 440,250" fill="#00c8ff"/>
<polygon points="492,254 500,247 508,241 520,230 532.5,220 545,215 551,207.5 565,203 571,192.5 587.5,182.5 600,173 622.5,161 643,148.5 665,137.5 688,125 688,205 555,205 555,215 540,232 528,262 500,262" fill="#06b016"/>
<rect x="491" y="256" width="14.00" height="9.00" fill="#00c864"/>
<rect x="509" y="243" width="10.00" height="7.00" fill="#00c864"/>
<rect x="531" y="237" width="14.00" height="25.00" fill="#00c864"/>
<rect x="545" y="246" width="17.00" height="16.00" fill="#00c864"/>
<polyline points="442.8,246.8 456.8,235.8 468.8,223.8 480.8,213.8" fill="none" stroke="#00ebd2" stroke-width="22.00" stroke-linejoin="round"/>
<polyline points="433.8,261.8 446.8,251.8 460.8,240.8 472.8,228.8 484.8,218.8 498,199 505.5,190 515,180 529.5,170.5 537,165.5 546,161 555,156" fill="none" stroke="#00c864" stroke-width="8.00" stroke-linejoin="round"/>
<polyline points="349,333 362.5,323.8 377.5,310 390,298.8 400,288.8 410,281.2 420,272.5 436,262" fill="none" stroke="#00ebd2" stroke-width="15.00" stroke-linecap="round" stroke-linejoin="round"/>
<polygon points="396,299 425,277 442,290 422,318 422,341 408,341 400,350 396,350" fill="#00ebd2"/>
<polyline points="351,332 362.5,323.8 377.5,310 390,298.8 400,288.8 410,281.2 420,272.5 436,262" fill="none" stroke="#00c864" stroke-width="6.50" stroke-linecap="round" stroke-linejoin="round"/>
<polyline points="358.8,326.3 370,318.8" fill="none" stroke="#06b016" stroke-width="3.00" stroke-linejoin="round"/>
<polyline points="413,284 425,274 438,266" fill="none" stroke="#06b016" stroke-width="9.00" stroke-linejoin="round"/>
<polyline points="399,347 405,340 415,326 425,315 435,305 445,293 455,283 463,274" fill="none" stroke="#00c864" stroke-width="12.00" stroke-linecap="round" stroke-linejoin="round"/>
<polyline points="399,347 405,340 415,326" fill="none" stroke="#06b016" stroke-width="5.00" stroke-linecap="round" stroke-linejoin="round"/>
<polyline points="415,326 425,315 435,305 445,293 455,283 463,274 470,267 479,261 489,251 497,243 505,234" fill="none" stroke="#06b016" stroke-width="8.50" stroke-linecap="round" stroke-linejoin="round"/>
<polygon points="435.8,264.8 448.8,254.8 462.8,243.8 474.8,231.8 486.8,221.8 500,202 507.5,193 517,183 531.5,173.5 539,168.5 548,164 557,159 571,147 585,139 600,128 606,125 612,119 620.2,113.8 630,110 637.5,104 646.5,98.8 652.5,92.8 658.5,91.2 670,84 688,72 689.5,127.5 666.5,140 644.5,151 624,163.5 601.5,175.5 589,185 572.5,195 566.5,205.5 552.5,210 546.5,217.5 534,222.5 521.5,232.5 509.5,243.5 501.5,249.5 493.5,256.5 483.5,264.5 477.5,262.5 467.5,267.5 453.5,269.5 441.5,273.5" fill="#06b016"/>
<polygon points="438,268 451,258 465,247 477,235 489,225 500,216 507.5,208.8 518.8,196 524.8,182.5 539,170.5 552.5,163.8 570,156 585,147 600,138.5 607.5,134 618.8,128 624.8,125 636,117.5 645,111 652.5,106 658.5,102.5 670,94.5 688,82 688,125 665,137.5 643,148.5 622.5,161 600,173 587.5,182.5 571,192.5 565,203 551,207.5 545,215 532.5,220 520,230 508,241 500,247 492,254 482,262 476,260 466,265 452,267 440,271" fill="#68d008"/>
<polyline points="597,152.5 612,142 622,132.5 645,122" fill="none" stroke="#06b016" stroke-width="1.80" stroke-linejoin="round"/>
<polyline points="421,318 427.5,312.5" fill="none" stroke="#68d008" stroke-width="2.50" stroke-linecap="round" stroke-linejoin="round"/>
<polyline points="432.5,306 445,293 455,283 463,274 470,267 479,261 489,251 497,243 505,234" fill="none" stroke="#68d008" stroke-width="3.50" stroke-linecap="round" stroke-linejoin="round"/>
<polyline points="445,293 455,283 463,274" fill="none" stroke="#c8f000" stroke-width="2.20" stroke-linejoin="round"/>
<polyline points="463,274 470,267 479,261 489,251 497,243 505,232" fill="none" stroke="#c8f000" stroke-width="4.50" stroke-linejoin="round"/>
<polyline points="505,232 512,220 522.5,212.5 531.5,205 539,197.5 546.5,190 552.5,185.5 558.5,185.5" fill="none" stroke="#c8f000" stroke-width="7.00" stroke-linejoin="round"/>
<polyline points="573,180 581,173.5" fill="none" stroke="#c8f000" stroke-width="4.00" stroke-linejoin="round"/>
<polyline points="649.5,130.7 658,124.5" fill="none" stroke="#c8f000" stroke-width="3.50" stroke-linejoin="round"/>
<polyline points="655,146 664,140.5" fill="none" stroke="#c8f000" stroke-width="3.50" stroke-linejoin="round"/>
<polyline points="666.4,129 688,113" fill="none" stroke="#c8f000" stroke-width="9.00" stroke-linejoin="round"/>
<polyline points="466,270.5 479,260" fill="none" stroke="#fff000" stroke-width="2.20" stroke-linejoin="round"/>
<polyline points="488,251 496,243" fill="none" stroke="#fff000" stroke-width="2.20" stroke-linejoin="round"/>
<rect x="592" y="149" width="5.00" height="4.00" fill="#fff000"/>
<rect x="429" y="290.5" width="5.00" height="2.50" fill="#5a0082"/>
<polyline points="515,281 519,283 522,288 524,293" fill="none" stroke="#5a0082" stroke-width="2.00" stroke-linejoin="round"/>
<polyline points="517,296 520,299 518,303" fill="none" stroke="#5a0082" stroke-width="2.00" stroke-linejoin="round"/>
<rect x="531.5" y="323.5" width="5.50" height="3.50" fill="#5a0082"/>
<rect x="549" y="261" width="6.00" height="3.00" fill="#5a0082"/>
<rect x="548.5" y="274.5" width="6.50" height="2.50" fill="#5a0082"/>
<rect x="419" y="290" width="7.00" height="7.00" fill="#00c864"/>
<polyline points="516.5,212 518,205 521.5,198.5" fill="none" stroke="#5a0082" stroke-width="2.50" stroke-linejoin="round"/>
<polyline points="550,207.5 554,206 555.5,200" fill="none" stroke="#5a0082" stroke-width="2.00" stroke-linejoin="round"/>
<rect x="558" y="197.5" width="2.50" height="3.00" fill="#5a0082"/>
<polyline points="612,140 612,129.5 616,129.5" fill="none" stroke="#5a0082" stroke-width="2.00" stroke-linejoin="round"/>
<polyline points="475.5,221 478,225 484,225" fill="none" stroke="#5a0082" stroke-width="2.00" stroke-linejoin="round"/>
<rect x="480" y="227" width="2.00" height="4.00" fill="#5a0082"/>
<rect x="537.5" y="239" width="2.00" height="9.00" fill="#5a0082"/>
</g>
<g clip-path="url(#mc)" fill="none" stroke="#000" stroke-linejoin="round">
<polyline points="184.9,73.0 180.4,167.5" stroke-width="1"/>
<polyline points="154.2,166.2 217.5,168.4 285.0,171.2" stroke-width="1"/>
<polyline points="154.2,199.1 217.5,201.3 285.0,203.7" stroke-width="1"/>
<polyline points="285.0,171.2 352.5,172.9 420.0,173.3" stroke-width="1"/>
<polyline points="285.0,203.7 286.4,204.3 286.4,205.0" stroke-width="1"/>
<polyline points="420.0,173.3 487.5,172.6 555.0,171.2" stroke-width="1"/>
<polyline points="555.0,171.2 571.0,171.2" stroke-width="1" shape-rendering="crispEdges"/>
<polyline points="569.3,73.0 571.0,171.2 571.9,203.3 571.9,205.0" stroke-width="1"/>
<polyline points="571.9,203.3 684.6,199.6" stroke-width="1"/>
<polyline points="286.4,205.0 284.0,321.4" stroke-width="1"/>
<polyline points="284.1,320.9 284.1,331.2 288.4,331.2 293.1,334.1 295.9,339.7 300.6,343.4 306.2,344.4 310.0,342.5 314.7,344.4 318.4,340.2 322.2,342.5 325.9,346.2 327.8,353.8 333.4,355.6 338.1,355.6 344.7,358.4 350.3,360.9 355.9,360.3 358.8,359.4 362.5,362.2 366.2,365.4 370.0,364.1 372.8,361.6 377.5,361.2 383.1,362.2 386.9,360.9 387.8,365.0 390.6,369.7 393.4,371.6 394.4,376.2 398.1,379.1 401.9,378.1 405.6,374.4 409.4,372.5 414.1,373.4 415.0,376.2 419.7,376.8" stroke-width="1"/>
<polyline points="420.0,376.9 421.9,380.6 425.0,382.5 428.1,380.0 432.5,379.4 435.0,376.2 436.9,378.1 436.2,386.2 439.4,389.4 443.1,386.9 443.8,381.2 446.9,378.1 448.1,373.8" stroke-width="1"/>
<polyline points="470.0,381.9 473.8,383.1 475.0,385.6 478.8,385.0 482.5,388.8 484.4,390.0 486.2,385.6 490.0,386.9 493.8,383.8 495.0,381.2 500.0,380.0 505.0,378.1 508.8,380.6 511.9,380.0 515.0,377.5 520.0,376.2" stroke-width="1"/>
<polyline points="448.1,373.5 452.5,375.2 453.8,379.4 458.8,382.5 462.5,377.8 467.5,377.1 470.0,381.2" stroke-width="3.4"/>
<polyline points="457.5,380.0 462.5,382.8 466.2,381.9" stroke-width="2.2"/>
<polyline points="465.6,367.5 468.1,370.6 471.2,365.6 473.8,366.2" stroke-width="2.8"/>
<polyline points="468.1,370.6 469.4,376.9" stroke-width="2.8"/>
<polyline points="519.9,378.0 522.9,374.6 531.4,377.1 543.2,372.1 555.0,378.0" stroke-width="1"/>
<polyline points="555.0,378.0 560.1,382.2 565.1,385.6 576.9,389.8 583.7,390.6 590.4,396.5 600.6,394.8 608.7,396.5 609.8,432.0 611.0,475.0" stroke-width="1"/>
<polyline points="583.7,390.6 584.5,340.0" stroke-width="1"/>
<polyline points="609.8,432.0 684.6,429.1" stroke-width="1"/>
<polyline points="571.0,205.0 576.9,247.2 583.7,275.9 584.5,340.0" stroke-width="1"/>
<polyline points="611.0,475.0 612.0,498.6 615.8,502.0 622.5,508.8 626.7,514.7 625.9,525.6 630.9,532.4 634.3,539.1 637.7,545.9 641.1,551.8 642.8,556.0 643.6,562.8 642.8,569.5 641.1,576.2 636.0,586.4 633.5,594.8 635.2,603.2" stroke-width="1"/>
<polyline points="163.5,603.0 163.5,589.0" stroke-width="1" shape-rendering="crispEdges"/>
<polyline points="276.5,603.0 276.5,589.0" stroke-width="1" shape-rendering="crispEdges"/>
<polyline points="391.5,603.0 391.5,589.0" stroke-width="1" shape-rendering="crispEdges"/>
<polyline points="504.5,603.0 504.5,589.0" stroke-width="1" shape-rendering="crispEdges"/>
<polyline points="618.5,603.0 618.5,589.0" stroke-width="1" shape-rendering="crispEdges"/>
<polyline points="186.5,72.5 186.5,86.5" stroke-width="1" shape-rendering="crispEdges"/>
<polyline points="290.5,72.5 290.5,86.5" stroke-width="1" shape-rendering="crispEdges"/>
<polyline points="393.5,72.5 393.5,86.5" stroke-width="1" shape-rendering="crispEdges"/>
<polyline points="496.5,72.5 496.5,86.5" stroke-width="1" shape-rendering="crispEdges"/>
<polyline points="600.5,72.5 600.5,86.5" stroke-width="1" shape-rendering="crispEdges"/>
<polyline points="153.5,100.5 168.0,100.5" stroke-width="1" shape-rendering="crispEdges"/>
<polyline points="153.5,232.5 168.0,232.5" stroke-width="1" shape-rendering="crispEdges"/>
<polyline points="153.5,364.5 168.0,364.5" stroke-width="1" shape-rendering="crispEdges"/>
<polyline points="153.5,496.5 168.0,496.5" stroke-width="1" shape-rendering="crispEdges"/>
<polyline points="685.0,232.5 670.5,232.5" stroke-width="1" shape-rendering="crispEdges"/>
<polyline points="685.0,364.5 670.5,364.5" stroke-width="1" shape-rendering="crispEdges"/>
<polyline points="685.0,496.5 670.5,496.5" stroke-width="1" shape-rendering="crispEdges"/>
<polyline points="164.3,72.5 164.3,81.6 164.4,81.7" stroke-width="0.6"/>
</g>
<g clip-path="url(#mc)"><path d="M217.5 74.2L204.0 77.6M207.8 74.3L204.0 77.6L208.9 78.7M242.8 73.4L225.1 79.3M228.6 75.7L225.1 79.3L230.0 80.0M264.8 72.5L248.7 79.3M251.9 75.5L248.7 79.3L253.7 79.6M177.0 101.2L177.8 89.4M179.8 94.0L177.8 89.4L175.3 93.7M204.8 101.2L195.9 89.4M200.4 91.6L195.9 89.4L196.8 94.3M228.5 97.8L218.0 91.1M223.0 91.6L218.0 91.1L220.5 95.4M253.8 94.5L238.9 95.3M243.3 92.8L238.9 95.3L243.5 97.3M276.6 89.9L260.9 99.0M263.6 94.8L260.9 99.0L265.9 98.8M158.8 118.9L171.1 111.3M168.5 115.6L171.1 111.3L166.1 111.7M186.3 122.3L187.5 107.1M189.4 111.7L187.5 107.1L184.9 111.4M214.1 119.8L206.5 110.2M211.1 112.3L206.5 110.2L207.5 115.1M238.9 114.7L229.0 114.7M233.0 112.7L229.0 114.7L233.0 116.8M261.7 115.2L251.8 115.2M255.7 113.2L251.8 115.2L255.7 117.3M285.0 115.2L274.0 115.2M278.4 113.0L274.0 115.2L278.4 117.5M154.2 134.1L161.0 128.2M159.5 132.0L161.0 128.2L157.1 129.2M170.2 142.6L182.9 126.5M181.9 131.4L182.9 126.5L178.4 128.6M195.2 142.6L204.3 126.0M204.2 131.0L204.3 126.0L200.2 128.8M220.4 140.5L226.8 128.7M226.7 133.7L226.8 128.7L222.7 131.6M245.8 139.2L245.7 129.4M247.7 133.3L245.7 129.4L243.7 133.4M276.6 134.5L262.2 133.8M266.8 131.7L262.2 133.8L266.6 136.3M154.2 161.1L172.8 145.9M170.8 150.5L172.8 145.9L167.9 147.0M181.2 161.1L193.0 146.8M192.0 151.7L193.0 146.8L188.4 148.8M204.0 162.5L216.7 145.6M215.8 150.5L216.7 145.6L212.2 147.8M226.8 162.0L239.4 145.6M238.5 150.5L239.4 145.6L234.9 147.7M249.6 161.1L263.9 146.8M262.4 151.5L263.9 146.8L259.2 148.3M285.0 153.5L274.9 152.7M279.1 151.0L274.9 152.7L278.8 155.1M154.2 173.8L162.7 166.5M160.8 171.2L162.7 166.5L157.8 167.7M167.7 182.2L185.8 165.3M184.1 170.0L185.8 165.3L181.0 166.7M190.5 182.2L207.7 163.2M206.4 168.0L207.7 163.2L203.0 164.9M213.8 180.5L232.7 165.3M230.6 169.9L232.7 165.3L227.8 166.4M238.9 180.5L253.3 165.3M251.9 170.1L253.3 165.3L248.6 167.0M260.5 178.0L278.2 170.4M275.0 174.2L278.2 170.4L273.3 170.1M154.2 203.3L172.8 184.4M171.3 189.2L172.8 184.4L168.0 186.0M179.5 202.5L195.6 183.1M194.5 187.9L195.6 183.1L191.0 185.1M201.5 200.8L220.9 185.1M218.8 189.7L220.9 185.1L216.0 186.1M224.2 199.1L242.8 187.3M240.3 191.6L242.8 187.3L237.8 187.8M247.9 196.9L266.1 189.8M262.8 193.5L266.1 189.8L261.1 189.3M270.7 193.5L285.0 193.5M280.5 195.8L285.0 193.5L280.5 191.3M306.1 73.4L298.2 81.5M299.7 76.7L298.2 81.5L302.9 79.9M330.6 73.4L320.4 80.5M322.8 76.0L320.4 80.5L325.4 79.8M353.3 73.4L343.7 80.5M346.0 76.0L343.7 80.5L348.7 79.6M377.0 73.4L366.5 80.5M368.9 76.1L366.5 80.5L371.5 79.8M399.8 73.4L391.3 80.1M393.3 75.7L391.3 80.1L396.1 79.1M420.0 75.1L414.1 81.8M415.1 77.9L414.1 81.8L417.8 80.3M296.8 90.2L287.0 100.0M288.6 95.3L287.0 100.0L291.8 98.5M321.8 91.1L308.6 100.0M311.0 95.7L308.6 100.0L313.6 99.4M345.4 91.9L331.4 98.7M334.4 94.7L331.4 98.7L336.4 98.8M367.7 91.6L355.9 100.0M358.2 95.6L355.9 100.0L360.8 99.3M388.8 90.6L380.3 100.4M381.5 95.5L380.3 100.4L385.0 98.5M411.6 89.4L404.5 101.2M404.8 96.2L404.5 101.2L408.7 98.6M309.5 113.5L296.8 116.9M300.5 113.6L296.8 116.9L301.7 118.0M332.8 112.2L319.6 118.1M322.7 114.2L319.6 118.1L324.6 118.3M354.5 109.7L342.9 119.3M344.9 114.7L342.9 119.3L347.8 118.2M377.5 111.0L366.8 118.9M369.1 114.5L366.8 118.9L371.8 118.1M398.9 109.7L391.3 120.3M392.1 115.3L391.3 120.3L395.7 118.0M420.0 113.9L414.6 121.5M415.2 117.3L414.6 121.5L418.3 119.5M299.9 132.1L285.0 137.5M288.4 133.8L285.0 137.5L290.0 138.1M322.5 129.9L308.3 139.5M310.7 135.1L308.3 139.5L313.2 138.9M345.4 130.4L331.4 139.5M333.9 135.2L331.4 139.5L336.4 139.0M367.4 130.4L355.9 138.8M358.1 134.4L355.9 138.8L360.8 138.0M388.8 130.4L380.9 139.2M382.2 134.4L380.9 139.2L385.5 137.4M410.7 129.4L404.5 139.5M404.9 134.5L404.5 139.5L408.7 136.9M308.6 148.5L297.1 158.6M299.0 153.9L297.1 158.6L302.0 157.3M333.9 152.3L318.2 155.2M322.2 152.2L318.2 155.2L323.0 156.7M355.9 151.0L341.9 156.9M345.1 153.1L341.9 156.9L346.9 157.3M377.8 150.2L366.5 157.4M369.0 153.1L366.5 157.4L371.5 156.9M398.9 148.5L391.3 159.4M392.0 154.5L391.3 159.4L395.7 157.1M420.0 149.3L415.8 160.3M415.3 155.3L415.8 160.3L419.5 156.9M297.7 172.9L288.4 176.3M291.4 173.1L288.4 176.3L292.8 176.9M323.0 177.2L308.3 170.4M313.3 170.2L308.3 170.4L311.4 174.3M347.4 175.5L329.2 171.8M334.0 170.4L329.2 171.8L333.1 174.9M367.7 172.1L355.0 174.6M359.0 171.5L355.0 174.6L359.8 176.0M389.6 169.2L379.5 177.7M381.5 173.1L379.5 177.7L384.4 176.6M408.5 168.2L406.8 178.3M405.4 173.9L406.8 178.3L409.6 174.6M306.6 191.5L301.9 195.7M302.9 193.1L301.9 195.7L304.6 195.0M335.6 195.2L316.2 190.7M321.1 189.5L316.2 190.7L320.0 193.9M355.9 193.5L342.4 192.8M346.9 190.8L342.4 192.8L346.7 195.3M377.8 191.2L366.5 194.5M370.1 191.1L366.5 194.5L371.4 195.4M399.4 191.2L391.6 194.5M394.1 191.6L391.6 194.5L395.5 194.8M420.0 188.1L416.3 197.4M415.9 192.9L416.3 197.4L419.7 194.4M444.5 73.4L436.0 82.7M437.3 77.8L436.0 82.7L440.7 80.9M468.1 73.4L459.1 82.7M460.6 77.9L459.1 82.7L463.9 81.0M490.0 73.4L483.3 83.2M483.9 78.2L483.3 83.2L487.7 80.8M512.8 73.4L506.4 83.8M506.8 78.9L506.4 83.8L510.7 81.2M535.6 73.4L529.4 84.3M529.6 79.3L529.4 84.3L533.5 81.6M434.9 89.4L427.1 101.7M427.5 96.7L427.1 101.7L431.4 99.2M458.0 89.9L450.4 101.7M450.9 96.8L450.4 101.7L454.7 99.2M480.8 87.7L473.2 103.4M473.1 98.4L473.2 103.4L477.1 100.4M503.9 86.9L496.8 104.6M496.3 99.6L496.8 104.6L500.5 101.3M527.2 88.2L518.7 102.9M519.0 97.9L518.7 102.9L522.9 100.2M549.9 88.6L542.3 102.4M542.5 97.4L542.3 102.4L546.5 99.6M445.0 107.5L438.6 122.7M438.2 117.7L438.6 122.7L442.4 119.4M468.1 107.5L461.3 122.7M461.1 117.7L461.3 122.7L465.2 119.5M490.9 107.5L483.8 122.7M483.6 117.7L483.8 122.7L487.7 119.6M514.2 107.5L506.9 122.7M506.8 117.7L506.9 122.7L510.9 119.6M538.1 107.5L529.7 123.2M529.8 118.2L529.7 123.2L533.8 120.3M432.7 129.1L428.8 140.0M428.1 135.1L428.8 140.0L432.4 136.6M456.8 128.2L450.4 140.9M450.4 135.9L450.4 140.9L454.4 137.9M481.1 127.7L472.0 141.2M472.6 136.2L472.0 141.2L476.3 138.8M503.9 127.0L496.3 142.6M496.2 137.6L496.3 142.6L500.3 139.6M528.0 128.2L517.9 140.9M518.9 136.0L517.9 140.9L522.4 138.8M550.8 128.2L541.2 140.9M542.1 136.0L541.2 140.9L545.7 138.7M445.0 149.3L438.2 158.6M439.0 153.7L438.2 158.6L442.7 156.3M469.8 148.0L459.1 159.4M460.5 154.6L459.1 159.4L463.8 157.7M491.7 147.6L483.3 160.3M483.9 155.3L483.3 160.3L487.6 157.8M515.9 147.6L506.4 160.8M507.2 155.8L506.4 160.8L510.8 158.5M536.8 147.3L532.7 162.0M531.7 157.1L532.7 162.0L536.1 158.3M433.5 168.7L428.8 178.3M428.7 173.5L428.8 178.3L432.6 175.4M456.8 169.2L451.2 177.7M451.7 173.1L451.2 177.7L455.2 175.4M479.9 166.5L474.3 180.5M473.9 175.6L474.3 180.5L478.1 177.2M504.4 169.2L494.6 177.2M496.6 172.6L494.6 177.2L499.5 176.1M525.5 167.0L519.6 179.7M519.4 174.7L519.6 179.7L523.5 176.6M551.6 169.2L541.2 179.7M542.7 174.9L541.2 179.7L545.9 178.1M441.9 188.1L440.6 198.2M439.1 193.9L440.6 198.2L443.2 194.5M468.9 188.1L460.2 198.2M461.4 193.4L460.2 198.2L464.8 196.4M490.9 190.2L484.5 196.2M485.8 192.5L484.5 196.2L488.3 195.1M511.1 189.8L510.3 197.4M509.1 194.2L510.3 197.4L512.2 194.5M533.4 187.3L532.7 199.1M530.7 194.5L532.7 199.1L535.2 194.8M558.4 73.4L553.3 82.7M553.4 77.9L553.3 82.7L557.2 80.0M581.7 73.4L575.6 84.3M575.8 79.3L575.6 84.3L579.7 81.5M604.8 73.4L599.7 83.2M599.7 78.2L599.7 83.2L603.7 80.3M627.9 73.4L622.5 83.5M622.6 78.5L622.5 83.5L626.6 80.6M650.9 73.4L646.1 84.3M645.8 79.4L646.1 84.3L650.0 81.2M572.7 91.1L565.5 100.4M566.4 95.5L565.5 100.4L570.0 98.3M595.8 88.6L589.1 102.4M589.0 97.4L589.1 102.4L593.1 99.4M617.8 89.4L613.2 101.7M612.6 96.8L613.2 101.7L616.9 98.3M642.4 91.6L635.7 101.2M636.4 96.3L635.7 101.2L640.1 98.9M560.9 107.1L555.0 120.6M554.7 115.6L555.0 120.6L558.9 117.5M582.0 108.5L577.8 122.0M576.9 117.0L577.8 122.0L581.3 118.4M606.0 108.0L599.7 122.7M599.4 117.7L599.7 122.7L603.6 119.4M627.9 110.8L623.9 119.3M623.8 115.1L623.9 119.3L627.2 116.7M652.9 110.5L646.1 119.8M646.9 114.8L646.1 119.8L650.6 117.5M676.5 112.2L667.7 118.9M669.9 114.4L667.7 118.9L672.6 118.0M571.9 127.4L565.5 142.9M565.1 137.9L565.5 142.9L569.3 139.6M593.5 132.8L590.8 137.2M591.0 134.9L590.8 137.2L592.8 136.0M642.4 127.4L635.7 142.2M635.4 137.2L635.7 142.2L639.6 139.1M660.5 126.5Q660.5 135.8 665.5 142.6M661.0 140.4L665.5 142.6L664.7 137.6M585.4 148.5L573.2 159.4M575.0 154.8L573.2 159.4L578.1 158.1M602.2 148.5L603.6 161.1M600.9 156.9L603.6 161.1L605.4 156.5M630.9 149.0L622.2 160.3M623.1 155.4L622.2 160.3L626.7 158.2M646.1 156.1L652.9 152.7M650.9 155.4L652.9 152.7L649.5 152.7M670.6 162.0L674.0 145.9M675.3 150.8L674.0 145.9L670.8 149.8M594.1 162.8Q589.6 178.0 595.5 180.5M590.5 180.9L595.5 180.5L592.3 176.7M611.5 181.4Q616.6 167.9 621.7 167.0M617.6 170.0L621.7 167.0L616.9 165.5M635.7 178.0L641.4 169.6M640.8 174.1L641.4 169.6L637.4 171.8M661.0 178.3L662.2 168.2M663.8 172.5L662.2 168.2L659.6 172.0M571.0 168.7L565.1 179.7M565.2 174.7L565.1 179.7L569.2 176.8M580.3 199.9L579.0 186.1M581.7 190.3L579.0 186.1L577.1 190.8M600.2 199.9L606.1 186.4M606.4 191.4L606.1 186.4L602.3 189.6M622.5 196.9L630.1 189.5M628.6 194.0L630.1 189.5L625.5 190.9M648.1 199.1L649.5 186.4M651.3 191.1L649.5 186.4L646.8 190.6M668.4 196.6L676.2 189.8M674.4 194.1L676.2 189.8L671.7 190.9M154.2 211.8L161.0 205.8M159.5 209.6L161.0 205.8L157.1 206.8M168.6 221.5L185.4 205.8M183.7 210.5L185.4 205.8L180.6 207.2M189.7 219.3L210.8 206.7M208.1 210.9L210.8 206.7L205.8 207.0M213.3 217.7L233.5 208.0M230.5 212.0L233.5 208.0L228.5 207.9M237.4 215.5L255.5 210.9M251.7 214.2L255.5 210.9L250.6 209.8M260.5 216.5L278.2 209.2M275.0 213.0L278.2 209.2L273.3 208.8M156.8 240.4L172.8 224.9M171.2 229.6L172.8 224.9L168.0 226.4M177.0 237.4L198.6 226.9M195.6 230.9L198.6 226.9L193.6 226.8M199.8 236.2L221.7 228.6M218.3 232.2L221.7 228.6L216.8 227.9M224.2 235.0L243.7 230.0M239.9 233.3L243.7 230.0L238.8 228.9M247.0 233.7L266.8 230.7M262.7 233.6L266.8 230.7L262.0 229.1M279.6 235.0L281.6 230.0M281.8 232.4L281.6 230.0L279.8 231.6M154.2 251.4L161.5 248.0M159.3 250.9L161.5 248.0L157.9 247.9M167.2 254.3L187.1 249.7M183.3 252.9L187.1 249.7L182.3 248.5M189.2 253.1L211.1 250.2M207.0 253.1L211.1 250.2L206.4 248.6M212.1 253.6L233.5 250.2M229.5 253.2L233.5 250.2L228.8 248.7M236.1 252.6L256.3 250.6M252.1 253.3L256.3 250.6L251.7 248.7M263.4 257.3L275.2 245.5M273.7 250.3L275.2 245.5L270.5 247.0M154.2 273.3L174.0 270.0M170.0 273.0L174.0 270.0L169.2 268.5M176.2 272.5L198.6 268.3M194.6 271.3L198.6 268.3L193.8 266.9M200.3 274.2L221.2 268.8M217.5 272.1L221.2 268.8L216.3 267.7M223.4 274.2L244.5 268.3M240.8 271.7L244.5 268.3L239.6 267.3M247.9 273.3L265.6 267.8M262.0 271.3L265.6 267.8L260.7 266.9M284.2 279.2L275.7 263.7M279.8 266.6L275.7 263.7L275.9 268.7M154.2 290.7L163.8 289.4M160.3 291.9L163.8 289.4L159.7 288.0M166.5 292.4L187.5 289.0M183.4 292.0L187.5 289.0L182.7 287.5M190.2 293.1L209.9 289.0M206.0 292.2L209.9 289.0L205.1 287.7M212.1 292.4L234.0 288.5M230.0 291.5L234.0 288.5L229.3 287.1M236.1 293.6L256.6 287.4M253.0 290.8L256.6 287.4L251.7 286.5M273.5 297.5L267.3 283.5M271.2 286.6L267.3 283.5L267.0 288.5M154.2 310.5L175.0 310.5M170.5 312.7L175.0 310.5L170.5 308.2M181.2 310.5L198.6 310.5M194.1 312.7L198.6 310.5L194.1 308.2M199.8 309.6L221.7 310.5M217.2 312.6L221.7 310.5L217.4 308.0M222.9 315.5L244.5 304.9M241.5 308.9L244.5 304.9L239.5 304.8M259.7 316.4L253.3 304.6M257.4 307.4L253.3 304.6L253.4 309.6M285.0 313.8L275.2 305.9M280.1 307.0L275.2 305.9L277.2 310.5M154.2 329.5L163.8 329.5M160.0 331.5L163.8 329.5L160.0 327.6M167.2 331.2L186.8 328.5M182.7 331.4L186.8 328.5L182.1 326.9M188.5 334.9L211.6 324.8M208.4 328.7L211.6 324.8L206.6 324.5M212.8 334.6L233.5 325.7M230.3 329.5L233.5 325.7L228.5 325.3M247.0 331.6L245.3 327.3M246.9 328.7L245.3 327.3L245.2 329.4M270.1 335.8L269.0 324.5M271.7 328.7L269.0 324.5L267.2 329.1M293.8 218.8L292.6 207.0M295.3 211.2L292.6 207.0L290.8 211.7M318.8 219.3L311.2 206.3M315.4 209.1L311.2 206.3L311.4 211.3M344.9 214.3L331.9 210.9M336.8 209.8L331.9 210.9L335.7 214.2M366.8 211.4L356.7 213.1M360.4 210.4L356.7 213.1L361.1 214.5M388.3 210.1L380.3 215.5M382.4 211.7L380.3 215.5L384.6 214.9M409.5 207.5L406.8 217.7M405.9 213.0L406.8 217.7L410.0 214.1M305.6 239.6L299.9 224.9M303.6 228.2L299.9 224.9L299.4 229.9M328.5 238.8L323.5 226.1M327.2 229.4L323.5 226.1L323.0 231.1M355.0 233.3L343.7 230.7M348.6 229.5L343.7 230.7L347.5 233.9M375.8 229.5L369.0 235.4M370.5 231.6L369.0 235.4L373.0 234.4M395.5 227.3L395.5 237.1M393.5 233.1L395.5 237.1L397.5 233.1M420.0 226.9L417.5 237.1M416.4 232.5L417.5 237.1L420.6 233.5M295.1 259.3L290.4 244.2M293.9 247.7L290.4 244.2L289.6 249.1M317.4 258.7L313.4 245.5M316.8 249.1L313.4 245.5L312.5 250.4M340.7 256.0L336.5 247.5M339.9 250.0L336.5 247.5L336.4 251.8M365.7 249.7L357.9 253.9M360.2 250.7L357.9 253.9L361.9 253.8M386.2 247.5L384.2 256.0M383.3 252.2L384.2 256.0L386.8 253.0M409.9 247.5L406.2 255.6M406.0 251.6L406.2 255.6L409.3 253.1M306.1 277.9L300.5 264.4M304.3 267.7L300.5 264.4L300.1 269.4M326.9 275.5L325.8 267.1M328.0 270.3L325.8 267.1L324.5 270.7M348.8 272.8L349.1 270.5M349.6 271.9L349.1 270.5L348.3 271.7M369.0 272.2L376.1 270.5M373.6 272.6L376.1 270.5L372.9 269.7M392.7 270.5L398.4 271.7M395.9 272.4L398.4 271.7L396.3 270.0M295.1 297.5L289.7 284.3M293.5 287.6L289.7 284.3L289.3 289.3M316.7 293.6L314.5 288.0M316.5 289.8L314.5 288.0L314.3 290.7M337.3 291.4L340.4 290.7M339.2 291.7L340.4 290.7L338.9 290.4M361.8 297.5L364.0 286.0M365.4 290.8L364.0 286.0L360.9 289.9M382.5 297.0L387.1 285.2M387.6 290.1L387.1 285.2L383.4 288.5M404.5 298.1L411.2 283.5M411.4 288.5L411.2 283.5L407.3 286.6M304.9 312.2L301.5 308.3M303.7 309.1L301.5 308.3L302.1 310.5M324.7 310.5L327.5 311.0M326.1 311.4L327.5 311.0L326.3 310.1M350.8 315.5L347.8 305.4M351.1 308.8L347.8 305.4L346.9 310.1M370.2 318.1L373.1 303.2M374.5 308.0L373.1 303.2L370.0 307.2M392.7 317.7L397.2 302.5M398.1 307.5L397.2 302.5L393.8 306.2M295.5 333.2L289.2 326.8M293.0 328.1L289.2 326.8L290.4 330.7M316.7 329.5L314.5 329.9M315.7 329.0L314.5 329.9L316.0 330.3M338.2 337.5L339.3 322.3M341.3 326.9L339.3 322.3L336.7 326.5M363.0 330.7L360.6 329.5M362.1 329.5L360.6 329.5L361.5 330.7M381.5 336.6L388.3 323.5M388.3 328.5L388.3 323.5L384.2 326.4M405.1 331.9L410.2 326.8M409.2 329.9L410.2 326.8L407.1 327.8M430.5 208.0L431.0 217.7M428.8 213.9L431.0 217.7L432.7 213.7M458.8 210.4L450.4 216.5M452.5 212.3L450.4 216.5L455.0 215.8M480.4 209.7L473.7 216.5M475.0 212.4L473.7 216.5L477.7 215.1M502.7 205.0L499.0 221.9M497.7 217.0L499.0 221.9L502.1 218.0M517.5 210.4L526.6 212.6M522.5 213.6L526.6 212.6L523.4 209.9M541.2 211.4L551.3 209.7M547.6 212.5L551.3 209.7L546.9 208.3M442.8 230.0L439.9 234.5M440.1 232.1L439.9 234.5L442.0 233.3M466.4 231.7L464.2 232.3M465.3 231.3L464.2 232.3L465.7 232.6M481.6 232.0L492.6 230.7M488.4 233.4L492.6 230.7L487.9 229.0M504.4 233.7Q511.1 230.3 517.5 235.4M512.6 234.4L517.5 235.4L515.4 230.8M534.8 238.8L533.4 225.2M536.1 229.5L533.4 225.2L531.6 229.9M432.1 248.0L431.5 256.5M430.0 252.9L431.5 256.5L433.5 253.2M453.8 249.7L455.8 253.1M454.3 252.2L455.8 253.1L455.7 251.3M471.5 250.9L482.8 251.4M478.2 253.5L482.8 251.4L478.4 248.9M491.7 247.5Q499.3 253.9 507.8 253.9M503.3 256.2L507.8 253.9L503.3 251.7M523.3 257.6L523.3 245.8M525.5 250.3L523.3 245.8L521.0 250.3M546.9 259.3L545.7 244.2M548.3 248.4L545.7 244.2L543.8 248.8M440.2 271.1L442.8 271.7M441.3 272.1L442.8 271.7L441.6 270.7M456.3 264.1L471.5 278.4M466.7 277.0L471.5 278.4L469.8 273.7M481.1 264.1Q487.5 272.5 495.1 270.0M491.6 273.5L495.1 270.0L490.1 269.2M510.3 280.1L509.8 263.2M512.2 267.6L509.8 263.2L507.6 267.7M533.4 280.6L533.4 262.0M535.7 266.5L533.4 262.0L531.1 266.5M431.8 289.0L436.5 286.3M435.2 288.4L436.5 286.3L434.1 286.5M446.2 294.4Q453.8 288.5 461.3 289.0M456.7 291.0L461.3 289.0L457.0 286.5M476.0 302.9Q476.5 286.0 483.3 280.6M481.2 285.2L483.3 280.6L478.4 281.6M499.3 302.5L500.7 279.2M502.7 283.8L500.7 279.2L498.1 283.6M520.9 302.0L525.0 279.2M526.4 284.0L525.0 279.2L521.9 283.2M544.0 300.9L549.6 281.3M550.6 286.2L549.6 281.3L546.2 284.9M432.7 315.5Q441.9 309.6 451.7 310.5M447.1 312.3L451.7 310.5L447.5 307.8M463.5 320.6L468.1 301.2M469.3 306.0L468.1 301.2L464.9 305.0M487.5 321.4L487.5 299.8M489.8 304.3L487.5 299.8L485.2 304.3M508.6 320.6L513.1 299.8M514.4 304.7L513.1 299.8L510.0 303.7M531.7 319.4L536.1 301.5M537.2 306.4L536.1 301.5L532.8 305.3M424.2 331.6L438.6 329.5M434.5 332.4L438.6 329.5L433.8 327.9M452.1 340.0L456.8 318.9M458.0 323.7L456.8 318.9L453.6 322.8M477.0 340.0L476.5 317.2M478.9 321.6L476.5 317.2L474.4 321.7M499.0 340.0L501.8 319.4M503.5 324.1L501.8 319.4L499.0 323.5M521.2 340.0L525.0 320.6M526.4 325.4L525.0 320.6L521.9 324.5M544.5 340.0L548.6 319.8M549.9 324.6L548.6 319.8L545.5 323.7M590.4 220.5L595.2 205.0M596.0 209.9L595.2 205.0L591.7 208.6M612.4 219.8L620.0 206.3M619.8 211.3L620.0 206.3L615.8 209.1M635.2 221.0L640.7 205.0M641.4 210.0L640.7 205.0L637.1 208.5M659.6 221.0L664.7 205.0M665.5 209.9L664.7 205.0L661.2 208.6M556.7 239.6L556.7 224.9M559.0 229.4L556.7 224.9L554.4 229.4M580.0 241.3L580.3 223.2M582.5 227.7L580.3 223.2L578.0 227.6M599.2 240.1L605.6 224.4M606.0 229.4L605.6 224.4L601.8 227.7M621.1 242.1L630.1 221.5M630.4 226.5L630.1 221.5L626.2 224.7M647.0 238.4L651.2 225.2M652.0 230.2L651.2 225.2L647.7 228.8M671.8 240.4L672.8 223.9M674.8 228.5L672.8 223.9L670.2 228.2M566.8 264.4L569.9 239.1M571.6 243.8L569.9 239.1L567.1 243.2M589.6 259.8L595.5 243.8M596.1 248.8L595.5 243.8L591.8 247.2M611.0 260.7L618.8 242.5M619.1 247.5L618.8 242.5L615.0 245.7M636.3 259.3L640.2 244.2M641.3 249.0L640.2 244.2L636.9 247.9M660.5 259.0L663.0 244.2M664.5 248.9L663.0 244.2L660.0 248.2M555.8 277.9L558.4 263.2M559.9 268.0L558.4 263.2L555.4 267.2M580.0 275.9L580.6 266.1M582.4 270.1L580.6 266.1L578.4 269.9M600.2 277.2L605.6 265.4M605.8 270.4L605.6 265.4L601.7 268.5M624.5 275.5L627.6 267.1M628.1 271.1L627.6 267.1L624.6 269.9M649.8 276.2L648.1 266.1M650.9 269.8L648.1 266.1L646.8 270.5M672.3 276.7L672.3 265.4M674.6 269.9L672.3 265.4L670.0 269.9M566.5 298.7L572.2 283.0M572.8 287.9L572.2 283.0L568.6 286.4M588.8 297.0L596.3 284.6M595.9 289.6L596.3 284.6L592.1 287.3M614.4 294.8L617.4 287.4M617.7 290.9L617.4 287.4L614.7 289.7M637.4 299.2L638.5 282.3M640.5 286.9L638.5 282.3L636.0 286.6M661.0 297.5L661.6 284.0M663.7 288.5L661.6 284.0L659.2 288.3M555.0 316.0L559.2 301.5M560.2 306.4L559.2 301.5L555.8 305.2M575.2 317.7L583.4 303.2M583.2 308.2L583.4 303.2L579.2 306.0M601.9 316.0L604.8 304.9M605.9 309.8L604.8 304.9L601.5 308.6M624.5 317.2L627.9 303.2M629.1 308.1L627.9 303.2L624.6 307.0M648.1 317.7L650.3 303.2M651.9 308.0L650.3 303.2L647.4 307.3M670.1 318.1L674.5 302.5M675.4 307.4L674.5 302.5L671.1 306.2M563.4 340.0L574.4 320.6M574.2 325.6L574.4 320.6L570.2 323.4M588.8 338.3L595.2 321.8M595.7 326.7L595.2 321.8L591.4 325.1M613.2 337.5L616.6 322.3M617.8 327.1L616.6 322.3L613.4 326.1M636.3 338.3L640.2 321.8M641.4 326.6L640.2 321.8L637.0 325.6M659.6 338.3L662.7 322.8M664.0 327.6L662.7 322.8L659.6 326.7M154.2 352.1L175.3 345.9M171.7 349.3L175.3 345.9L170.4 345.0M176.2 353.2L199.3 345.4M195.8 349.0L199.3 345.4L194.3 344.7M199.8 353.5L221.7 345.4M218.3 349.1L221.7 345.4L216.8 344.8M223.4 352.1L244.5 346.4M240.8 349.8L244.5 346.4L239.6 345.4M252.6 355.5Q258.0 349.3 257.7 343.0M260.2 347.4L257.7 343.0L255.6 347.6M280.3 355.5L278.2 343.0M281.2 347.1L278.2 343.0L276.7 347.8M154.2 368.4L165.5 366.7M161.5 369.6L165.5 366.7L160.8 365.1M165.5 371.2L189.2 365.6M185.3 368.9L189.2 365.6L184.3 364.5M189.2 372.4L211.1 365.0M207.6 368.6L211.1 365.0L206.1 364.3M211.6 373.8L234.7 364.0M231.5 367.8L234.7 364.0L229.7 363.6M238.6 374.1Q247.9 370.4 251.6 361.1M252.0 366.1L251.6 361.1L247.8 364.4M267.3 375.4L271.8 362.3M272.5 367.2L271.8 362.3L268.2 365.7M154.2 390.3L176.7 385.6M172.8 388.7L176.7 385.6L171.8 384.3M176.2 391.5L199.8 385.2M196.1 388.6L199.8 385.2L194.9 384.2M200.3 392.3L221.2 384.2M217.9 387.9L221.2 384.2L216.2 383.7M224.2 396.0L243.7 381.3M241.5 385.8L243.7 381.3L238.7 382.2M250.9 394.8L262.7 381.3M261.5 386.2L262.7 381.3L258.1 383.2M281.3 399.9L277.9 377.5M280.8 381.5L277.9 377.5L276.3 382.2M154.2 407.8L164.8 405.8M161.0 408.8L164.8 405.8L160.2 404.5M165.5 410.5L189.2 405.0M185.3 408.2L189.2 405.0L184.3 403.8M190.2 411.2L209.4 403.8M206.1 407.5L209.4 403.8L204.4 403.3M214.1 413.4L232.7 403.8M229.8 407.9L232.7 403.8L227.7 403.8M241.1 413.4L251.6 402.1M250.2 406.9L251.6 402.1L246.9 403.8M269.5 419.0L269.5 397.0M271.7 401.5L269.5 397.0L267.2 401.5M154.2 429.1L175.7 425.7M171.6 428.7L175.7 425.7L170.9 424.2M176.7 430.8L198.6 422.7M195.2 426.4L198.6 422.7L193.6 422.1M201.5 431.5L220.5 424.0M217.2 427.8L220.5 424.0L215.6 423.5M226.8 430.8L241.1 424.0M238.1 428.0L241.1 424.0L236.1 423.9M258.3 437.5L255.0 418.0M258.0 422.0L255.0 418.0L253.5 422.7M280.3 438.7L279.6 416.3M282.0 420.7L279.6 416.3L277.5 420.8M154.2 446.6L163.8 446.0M160.1 448.2L163.8 446.0L159.8 444.3M165.5 449.7L188.8 445.0M184.9 448.1L188.8 445.0L184.0 443.6M189.7 449.4L211.1 445.5M207.1 448.5L211.1 445.5L206.3 444.0M227.6 458.1Q220.9 444.6 228.5 437.0M226.9 441.8L228.5 437.0L223.7 438.6M247.9 459.0L244.8 435.3M247.7 439.5L244.8 435.3L243.2 440.1M270.1 458.1L269.0 435.3M271.5 439.7L269.0 435.3L266.9 439.9M154.2 466.2L175.0 466.2M170.5 468.5L175.0 466.2L170.5 464.0M180.4 468.2L195.2 464.5M191.5 467.8L195.2 464.5L190.4 463.4M213.3 475.0Q209.1 461.5 214.1 456.4M212.6 461.2L214.1 456.4L209.4 458.0M236.4 475.0L231.8 456.1M235.1 459.9L231.8 456.1L230.7 461.0M256.6 475.0L256.3 457.3M258.7 461.7L256.3 457.3L254.1 461.8M279.9 475.0L279.9 457.3M282.2 461.7L279.9 457.3L277.7 461.7M305.6 351.0L299.9 347.6M302.8 347.8L299.9 347.6L301.5 350.1M325.8 356.9L326.3 340.8M328.5 345.4L326.3 340.8L323.9 345.2M347.8 357.7L351.1 340.3M352.5 345.1L351.1 340.3L348.1 344.3M369.0 356.0L375.3 342.5M375.5 347.5L375.3 342.5L371.4 345.6M391.6 354.9L400.1 343.7M399.2 348.6L400.1 343.7L395.6 345.9M413.6 351.5L420.0 349.3M417.9 351.5L420.0 349.3L417.0 348.9M293.1 380.5L288.7 357.7M291.8 361.7L288.7 357.7L287.3 362.5M314.5 378.0L315.7 359.9M317.7 364.5L315.7 359.9L313.2 364.2M337.6 377.1L339.3 360.6M341.1 365.2L339.3 360.6L336.6 364.8M360.6 374.6L363.0 364.0M364.2 368.7L363.0 364.0L359.8 367.7M382.5 372.9L386.6 362.3M387.1 367.2L386.6 362.3L382.9 365.6M406.2 369.0L410.2 367.8M408.8 369.1L410.2 367.8L408.3 367.5M302.7 400.4L302.2 376.3M304.6 380.7L302.2 376.3L300.0 380.8M323.0 398.7L329.7 378.0M330.5 382.9L329.7 378.0L326.2 381.5M347.1 393.7L350.5 380.5M351.6 385.4L350.5 380.5L347.2 384.3M365.7 394.8L379.5 383.0M377.6 387.7L379.5 383.0L374.6 384.2M393.8 388.6L397.2 388.1M396.0 389.0L397.2 388.1L395.8 387.6M418.3 401.6L418.6 378.0M420.9 382.5L418.6 378.0L416.3 382.4M293.1 419.3L291.4 396.5M294.0 400.8L291.4 396.5L289.5 401.1M312.3 417.3L318.4 398.2M319.2 403.2L318.4 398.2L314.9 401.8M333.6 415.6L344.1 399.9M343.5 404.9L344.1 399.9L339.7 402.4M358.9 410.9L364.6 404.5M363.7 408.2L364.6 404.5L361.0 405.9M379.8 407.2L389.6 408.9M385.4 410.2L389.6 408.9L386.0 406.2M408.5 419.3L407.3 396.5M409.8 400.9L407.3 396.5L405.3 401.1M301.0 437.0L306.1 417.6M307.2 422.5L306.1 417.6L302.8 421.4M319.6 435.3L330.2 420.7M329.5 425.6L330.2 420.7L325.8 422.9M343.2 432.5L355.5 422.4M353.5 426.9L355.5 422.4L350.7 423.4M366.0 428.1L378.7 427.4M374.3 429.9L378.7 427.4L374.1 425.4M395.5 439.2L394.7 415.6M397.1 420.0L394.7 415.6L392.6 420.1M418.3 437.9L418.3 415.9M420.6 420.4L418.3 415.9L416.0 420.4M291.4 456.4L292.6 437.5M294.6 442.1L292.6 437.5L290.1 441.8M310.0 453.9L321.3 440.4M320.2 445.3L321.3 440.4L316.7 442.4M332.6 450.5L344.4 444.3M341.5 448.4L344.4 444.3L339.4 444.4M355.9 446.3L366.0 447.2M361.8 448.9L366.0 447.2L362.1 444.7M385.4 455.6L384.2 438.7M386.8 443.0L384.2 438.7L382.3 443.3M409.0 459.0L406.2 435.3M409.0 439.5L406.2 435.3L404.4 440.0M298.8 474.2L307.3 460.1M306.9 465.1L307.3 460.1L303.0 462.8M320.8 474.2L333.1 460.7M331.8 465.5L333.1 460.7L328.4 462.4M342.0 475.0L354.5 457.8M353.7 462.7L354.5 457.8L350.1 460.1M372.4 475.0L372.4 457.8M374.7 462.2L372.4 457.8L370.1 462.2M396.4 475.0L393.8 456.8M396.7 460.9L393.8 456.8L392.2 461.5M418.3 468.2L417.0 456.4M419.7 460.6L417.0 456.4L415.2 461.1M441.1 359.4L441.6 340.0M443.8 344.5L441.6 340.0L439.2 344.4M464.2 361.1L464.7 340.0M466.9 344.5L464.7 340.0L462.3 344.4M487.8 361.1L487.8 340.0M490.1 344.5L487.8 340.0L485.6 344.5M509.8 358.9L511.5 340.8M513.3 345.5L511.5 340.8L508.8 345.1M532.7 358.2L534.8 340.8M536.5 345.5L534.8 340.8L532.0 345.0M431.0 378.0L431.8 357.7M433.9 362.3L431.8 357.7L429.4 362.1M453.8 373.8L453.8 357.7M456.0 362.2L453.8 357.7L451.5 362.2M477.0 380.5L476.5 356.9M478.9 361.3L476.5 356.9L474.4 361.4M499.6 379.7L500.2 358.9M502.3 363.4L500.2 358.9L497.8 363.3M522.6 376.3L524.3 360.2M526.1 364.9L524.3 360.2L521.6 364.4M544.5 372.9L549.1 363.6M549.2 368.3L549.1 363.6L545.4 366.4M441.1 399.1L441.6 378.0M443.8 382.5L441.6 378.0L439.2 382.4M465.2 399.9L464.2 378.5M466.7 382.8L464.2 378.5L462.2 383.0M487.8 398.2L487.5 378.0M489.8 382.4L487.5 378.0L485.3 382.5M510.3 396.5L511.1 380.5M513.2 385.1L511.1 380.5L508.6 384.8M532.7 394.8L535.1 382.2M536.5 387.0L535.1 382.2L532.0 386.2M431.5 418.5L430.5 397.7M432.9 402.1L430.5 397.7L428.4 402.3M455.4 418.0L453.4 397.7M456.1 401.9L453.4 397.7L451.6 402.4M477.7 418.5L476.0 397.7M478.6 402.0L476.0 397.7L474.1 402.3M500.2 416.3L500.2 399.4M502.4 403.9L500.2 399.4L497.9 403.9M521.6 415.9L523.8 400.8M525.4 405.5L523.8 400.8L520.9 404.8M544.0 413.9L549.1 402.4M549.4 407.4L549.1 402.4L545.2 405.6M441.6 439.2L440.6 416.8M443.1 421.1L440.6 416.8L438.5 421.3M465.2 438.2L463.5 416.8M466.2 421.0L463.5 416.8L461.6 421.4M487.5 437.5L487.5 417.6M489.8 422.1L487.5 417.6L485.2 422.1M507.4 436.2L514.5 419.0M514.9 424.0L514.5 419.0L510.7 422.2M531.0 434.5L536.8 420.7M537.2 425.6L536.8 420.7L533.0 423.9M431.5 456.4L430.5 438.2M433.0 442.5L430.5 438.2L428.4 442.8M455.8 452.7L452.9 438.7M456.0 442.6L452.9 438.7L451.6 443.5M477.4 457.3L476.5 436.5M479.0 440.9L476.5 436.5L474.4 441.1M498.5 456.4L501.3 437.5M502.9 442.3L501.3 437.5L498.4 441.6M520.4 455.6L526.6 438.7M527.2 443.7L526.6 438.7L523.0 442.1M543.5 452.7L549.1 441.6M549.1 446.6L549.1 441.6L545.1 444.6M442.3 475.0L440.6 456.4M443.3 460.7L440.6 456.4L438.7 461.1M465.2 475.0L463.5 456.4M466.2 460.7L463.5 456.4L461.7 461.1M487.8 475.0L488.3 457.8M490.5 462.3L488.3 457.8L485.9 462.2M510.3 475.0L511.5 457.8M513.4 462.4L511.5 457.8L508.9 462.1M531.7 475.0L536.1 459.5M537.1 464.4L536.1 459.5L532.7 463.1M555.0 352.7L560.1 344.7M559.7 348.9L560.1 344.7L556.4 346.9M576.1 357.2L582.8 343.0M583.0 348.0L582.8 343.0L578.9 346.1M601.4 356.0L604.8 342.5M605.9 347.4L604.8 342.5L601.5 346.3M624.5 354.9L627.9 343.4M628.8 348.3L627.9 343.4L624.5 347.0M647.5 354.9L650.3 343.7M651.4 348.6L650.3 343.7L647.0 347.5M670.6 354.9L674.0 343.7M674.8 348.6L674.0 343.7L670.5 347.3M566.5 375.4L572.7 362.8M572.8 367.8L572.7 362.8L568.7 365.8M591.3 373.8L593.8 363.6M594.9 368.2L593.8 363.6L590.7 367.2M615.4 374.6L615.4 363.6M617.7 368.0L615.4 363.6L613.2 368.0M636.3 375.4L640.2 362.3M641.1 367.2L640.2 362.3L636.8 365.9M660.5 374.6L662.2 363.6M663.7 368.4L662.2 363.6L659.2 367.7M555.0 392.3L559.7 383.0M559.7 387.7L559.7 383.0L555.9 385.8M577.8 394.8L582.3 382.2M583.0 387.1L582.3 382.2L578.7 385.6M601.9 394.0L604.8 383.5M605.8 388.3L604.8 383.5L601.5 387.1M626.2 395.4L626.2 381.9M628.5 386.3L626.2 381.9L623.9 386.3M648.1 394.8L650.3 382.2M651.8 387.0L650.3 382.2L647.3 386.2M671.4 394.3L672.8 382.5M674.5 387.2L672.8 382.5L670.0 386.7M568.2 414.6L570.5 401.6M572.0 406.4L570.5 401.6L567.5 405.6M591.3 414.2L594.1 402.1M595.3 407.0L594.1 402.1L590.9 405.9M614.4 414.2L616.1 401.6M617.7 406.3L616.1 401.6L613.2 405.7M638.5 413.9L638.5 402.1M640.8 406.6L638.5 402.1L636.3 406.6M660.5 414.2L662.2 401.6M663.8 406.3L662.2 401.6L659.3 405.7M555.8 428.6L557.5 421.0M558.4 424.4L557.5 421.0L555.3 423.7M579.5 434.5L580.3 420.7M582.3 425.2L580.3 420.7L577.8 425.0M602.2 434.5L603.9 420.7M605.7 425.4L603.9 420.7L601.1 424.8M625.0 434.2L627.2 420.7M628.8 425.4L627.2 420.7L624.3 424.7M648.1 434.5L649.5 420.7M651.3 425.3L649.5 420.7L646.8 424.9M671.4 433.7L673.1 421.3M674.8 426.1L673.1 421.3L670.3 425.4M568.2 452.2L569.9 442.1M571.2 446.5L569.9 442.1L567.1 445.8M591.3 453.4L593.0 440.9M594.6 445.6L593.0 440.9L590.1 445.0M614.4 452.7L615.4 439.6M617.3 444.2L615.4 439.6L612.8 443.8M638.5 453.4L638.5 440.9M640.8 445.4L638.5 440.9L636.3 445.4M660.5 452.7L662.2 441.2M663.8 446.0L662.2 441.2L659.3 445.3M557.0 473.3L556.7 459.5M559.1 463.9L556.7 459.5L554.5 464.0M580.0 473.3L580.0 459.8M582.2 464.3L580.0 459.8L577.7 464.3M602.2 473.3L603.9 459.8M605.6 464.5L603.9 459.8L601.1 464.0M626.2 473.0L626.2 460.1M628.5 464.6L626.2 460.1L623.9 464.6M648.1 473.3L649.8 460.1M651.5 464.9L649.8 460.1L647.0 464.3M671.4 473.3L673.1 459.8M674.8 464.5L673.1 459.8L670.3 464.0M154.2 486.5L164.3 487.1M160.1 488.9L164.3 487.1L160.4 484.8M168.2 487.1L184.6 482.6M180.9 486.0L184.6 482.6L179.7 481.6M189.7 491.0L206.5 478.0M204.4 482.6L206.5 478.0L201.6 479.0M225.6 496.9L220.5 475.8M223.8 479.6L220.5 475.8L219.4 480.7M248.7 496.9L244.2 475.8M247.3 479.7L244.2 475.8L242.9 480.7M270.1 495.2L269.5 477.5M271.9 481.9L269.5 477.5L267.4 482.1M156.4 507.4L172.8 503.4M169.0 506.6L172.8 503.4L167.9 502.2M180.7 507.9L192.5 500.3M190.0 504.6L192.5 500.3L187.6 500.8M211.1 513.5L209.4 494.9M212.1 499.1L209.4 494.9L207.5 499.6M234.4 516.3L233.0 494.9M235.6 499.2L233.0 494.9L231.0 499.5M258.3 513.0L255.5 498.6M258.6 502.5L255.5 498.6L254.1 503.4M277.4 511.3L283.3 500.3M283.2 505.3L283.3 500.3L279.2 503.2M154.2 525.3L160.1 523.6M158.1 525.5L160.1 523.6L157.4 523.1M177.3 534.4L180.7 517.5M182.1 522.3L180.7 517.5L177.6 521.4M201.5 534.1L198.6 515.8M201.5 519.9L198.6 515.8L197.1 520.6M223.9 535.4L222.2 515.2M224.9 519.4L222.2 515.2L220.3 519.8M246.5 533.2L245.8 517.5M248.3 521.9L245.8 517.5L243.8 522.1M266.4 532.0L272.3 518.5M272.6 523.5L272.3 518.5L268.5 521.7M167.2 553.5L163.5 536.1M166.7 540.0L163.5 536.1L162.2 540.9M190.5 553.5L185.8 535.8M189.1 539.5L185.8 535.8L184.7 540.6M211.6 553.5L209.9 536.6M212.6 540.8L209.9 536.6L208.1 541.3M234.0 551.8L233.0 537.8M235.6 542.1L233.0 537.8L231.1 542.4M255.5 550.1L258.3 539.5M259.4 544.3L258.3 539.5L255.0 543.1M275.2 549.6L285.0 540.0M283.4 544.7L285.0 540.0L280.2 541.5M154.2 564.1L162.2 559.7M159.9 563.1L162.2 559.7L158.1 559.9M179.0 573.2L174.5 555.2M177.8 558.9L174.5 555.2L173.4 560.0M201.5 572.5L198.9 556.8M201.9 560.9L198.9 556.8L197.4 561.6M223.9 571.2L222.6 557.7M225.3 561.9L222.6 557.7L220.7 562.3M244.8 570.9L248.2 557.7M249.3 562.6L248.2 557.7L244.9 561.4M266.8 571.5L273.2 557.4M273.4 562.3L273.2 557.4L269.3 560.5M161.5 591.4L166.5 571.5M167.6 576.4L166.5 571.5L163.2 575.3M187.5 593.1L187.5 573.7M189.7 578.2L187.5 573.7L185.2 578.2M211.6 591.4L209.9 576.2M212.7 580.4L209.9 576.2L208.1 580.9M234.0 591.4L234.0 576.6M236.3 581.0L234.0 576.6L231.8 581.0M255.5 591.4L258.8 576.6M260.1 581.4L258.8 576.6L255.6 580.4M276.2 592.3L284.2 576.2M284.2 581.2L284.2 576.2L280.1 579.2M154.2 602.4L159.3 595.1M158.7 599.1L159.3 595.1L155.8 597.0M176.2 603.2L175.7 596.8M177.2 599.3L175.7 596.8L174.5 599.5M199.3 603.2L198.9 596.8M200.4 599.3L198.9 596.8L197.8 599.5M222.9 603.2L222.6 596.8M224.0 599.3L222.6 596.8L221.4 599.5M246.5 603.2L246.5 596.8M247.8 599.4L246.5 596.8L245.2 599.4M269.0 602.4L272.3 596.8M272.1 599.8L272.3 596.8L269.9 598.4M289.2 491.5L295.5 481.4M295.1 486.4L295.5 481.4L291.2 484.0M310.6 494.4L320.4 478.0M320.1 483.0L320.4 478.0L316.2 480.7M331.9 492.7L344.4 478.7M343.1 483.5L344.4 478.7L339.7 480.5M363.0 496.1L361.3 476.7M363.9 480.9L361.3 476.7L359.4 481.3M386.2 496.9L383.2 475.8M386.1 479.9L383.2 475.8L381.6 480.6M409.5 496.1L406.2 476.4M409.2 480.4L406.2 476.4L404.7 481.1M297.1 512.5L308.3 498.6M307.3 503.5L308.3 498.6L303.7 500.7M320.4 510.4L331.9 501.2M329.9 505.7L331.9 501.2L327.0 502.2M343.2 510.1Q350.0 507.9 352.5 499.0M353.5 503.9L352.5 499.0L349.1 502.6M372.4 515.8L372.4 496.6M374.7 501.1L372.4 496.6L370.1 501.1M397.2 515.8L393.8 495.6M396.8 499.6L393.8 495.6L392.3 500.4M419.2 509.6L415.8 495.6M419.0 499.4L415.8 495.6L414.6 500.5M286.7 530.4L297.7 520.2M295.9 524.9L297.7 520.2L292.8 521.6M310.0 530.4L321.3 519.7M319.6 524.4L321.3 519.7L316.5 521.1M336.5 528.7L340.4 521.4M340.3 525.1L340.4 521.4L337.3 523.5M362.3 536.6L361.3 514.1M363.7 518.5L361.3 514.1L359.2 518.7M386.2 534.9L382.5 515.5M385.6 519.4L382.5 515.5L381.1 520.3M409.5 535.4L405.1 515.2M408.3 519.0L405.1 515.2L403.9 520.0M299.3 551.8L307.3 537.4M307.1 542.4L307.3 537.4L303.1 540.2M320.4 551.3L331.4 538.3M330.3 543.1L331.4 538.3L326.8 540.2M350.5 554.3L347.8 534.4M350.6 538.5L347.8 534.4L346.1 539.1M373.6 554.3L371.4 534.9M374.2 539.1L371.4 534.9L369.6 539.6M397.7 554.6L392.7 534.9M396.0 538.7L392.7 534.9L391.6 539.8M420.0 550.9L416.3 534.9M419.5 538.7L416.3 534.9L415.1 539.8M288.0 572.5L296.5 556.3M296.4 561.3L296.5 556.3L292.4 559.2M309.5 572.5L321.8 556.3M320.9 561.3L321.8 556.3L317.3 558.5M337.6 574.6L339.8 554.0M341.6 558.6L339.8 554.0L337.1 558.2M363.5 573.2L360.1 555.7M363.2 559.6L360.1 555.7L358.7 560.5M386.6 574.2L382.5 554.3M385.6 558.2L382.5 554.3L381.2 559.1M410.7 574.9L405.1 553.5M408.5 557.2L405.1 553.5L404.1 558.4M296.5 591.1L308.3 576.2M307.3 581.1L308.3 576.2L303.7 578.3M323.5 593.1L328.5 574.2M329.6 579.1L328.5 574.2L325.2 577.9M350.0 592.3L348.3 574.9M351.0 579.1L348.3 574.9L346.5 579.6M375.3 594.0L370.2 573.7M373.5 577.5L370.2 573.7L369.1 578.6M398.4 595.1L392.7 572.5M396.0 576.3L392.7 572.5L391.6 577.4M420.0 591.4L415.3 573.2M418.6 577.0L415.3 573.2L414.2 578.1M292.6 602.4L297.7 598.2M296.5 600.9L297.7 598.2L294.8 598.8M315.4 602.4L319.1 593.1M319.5 597.6L319.1 593.1L315.7 596.1M338.7 602.4L339.3 591.8M341.2 596.2L339.3 591.8L336.9 595.9M361.3 602.4L359.6 593.1M362.2 596.5L359.6 593.1L358.4 597.2M384.9 602.4L382.5 596.5M384.7 598.4L382.5 596.5L382.3 599.4M406.8 602.4L405.7 594.8M407.7 597.6L405.7 594.8L404.6 598.1M432.7 497.8L429.3 475.8M432.2 479.9L429.3 475.8L427.7 480.6M454.1 496.6L453.8 475.8M456.1 480.3L453.8 475.8L451.6 480.3M477.0 495.6L477.0 477.5M479.3 482.0L477.0 477.5L474.8 482.0M498.5 494.4L501.8 478.0M503.2 482.9L501.8 478.0L498.7 481.9M519.9 494.4L526.0 478.0M526.6 483.0L526.0 478.0L522.3 481.4M544.5 492.2L547.4 480.4M548.6 485.3L547.4 480.4L544.1 484.2M442.8 516.3L440.6 495.6M443.3 499.8L440.6 495.6L438.8 500.3M464.7 515.5L464.2 496.1M466.6 500.5L464.2 496.1L462.1 500.6M487.5 513.0L487.5 498.6M489.8 503.1L487.5 498.6L485.2 503.1M509.1 515.5L512.0 496.1M513.6 500.8L512.0 496.1L509.1 500.2M533.4 513.0L534.4 498.3M536.4 502.9L534.4 498.3L531.8 502.6M433.2 533.2L428.4 515.2M431.8 518.9L428.4 515.2L427.4 520.0M454.6 534.9L453.8 515.5M456.2 519.9L453.8 515.5L451.7 520.0M477.7 534.9L476.5 515.5M479.1 519.8L476.5 515.5L474.5 520.1M500.2 534.9L500.2 515.5M502.4 520.0L500.2 515.5L497.9 520.0M520.4 531.5L526.0 518.5M526.3 523.5L526.0 518.5L522.1 521.7M547.4 532.4L544.5 518.0M547.6 522.0L544.5 518.0L543.2 522.8M443.3 554.3L439.4 534.9M442.5 538.8L439.4 534.9L438.1 539.7M464.7 554.0L464.2 535.4M466.6 539.8L464.2 535.4L462.1 539.9M487.5 555.7L487.5 533.7M489.8 538.2L487.5 533.7L485.2 538.2M509.1 553.5L512.0 536.1M513.5 540.9L512.0 536.1L509.0 540.1M534.4 552.3L532.7 537.1M535.5 541.3L532.7 537.1L531.0 541.8M433.5 574.6L428.8 553.5M432.0 557.3L428.8 553.5L427.5 558.3M454.6 574.9L452.9 553.5M455.5 557.7L452.9 553.5L451.0 558.1M477.7 574.6L476.5 554.0M479.1 558.3L476.5 554.0L474.5 558.6M500.2 574.6L500.2 554.3M502.4 558.8L500.2 554.3L497.9 558.8M522.1 573.7L523.8 555.2M525.6 559.8L523.8 555.2L521.1 559.4M548.6 570.9L544.5 557.7M548.0 561.3L544.5 557.7L543.7 562.6M444.0 594.5L439.4 572.9M442.5 576.8L439.4 572.9L438.1 577.7M465.9 594.0L463.5 572.9M466.3 577.0L463.5 572.9L461.8 577.6M488.3 594.0L487.2 574.2M489.7 578.5L487.2 574.2L485.2 578.8M510.3 593.5L511.5 574.6M513.5 579.2L511.5 574.6L508.9 578.9M535.6 592.3L532.7 575.9M535.7 579.9L532.7 575.9L531.3 580.7M430.5 602.4L428.1 592.8M431.0 596.2L428.1 592.8L427.1 597.1M453.4 602.4L452.9 593.5M454.9 596.9L452.9 593.5L451.3 597.2M476.5 602.4L476.0 594.0M478.0 597.2L476.0 594.0L474.5 597.5M499.6 602.4L499.0 594.0M501.0 597.2L499.0 594.0L497.5 597.5M523.3 602.4L522.6 596.8M524.0 598.9L522.6 596.8L521.7 599.2M545.7 602.4L544.0 595.7M546.1 598.0L544.0 595.7L543.3 598.7M569.3 493.9L569.3 478.7M571.6 483.2L569.3 478.7L567.1 483.2M592.5 492.7L592.5 479.7M594.7 484.2L592.5 479.7L590.2 484.2M614.9 492.2L616.1 479.7M617.9 484.4L616.1 479.7L613.4 483.9M638.5 493.9L638.5 478.4M640.8 482.8L638.5 478.4L636.3 482.8M661.6 493.9L661.6 478.0M663.9 482.5L661.6 478.0L659.4 482.5M557.0 513.5L556.7 498.6M559.1 503.0L556.7 498.6L554.5 503.1M580.0 513.5L580.3 498.6M582.5 503.1L580.3 498.6L577.9 503.0M603.6 512.5L602.6 499.0M605.2 503.2L602.6 499.0L600.7 503.6M626.7 512.5L625.5 497.8M628.2 502.0L625.5 497.8L623.6 502.4M649.5 511.8L649.2 499.5M651.6 503.9L649.2 499.5L647.0 504.0M672.3 513.0L671.8 498.3M674.2 502.7L671.8 498.3L669.7 502.8M569.3 533.2L569.3 517.5M571.6 522.0L569.3 517.5L567.1 522.0M591.8 532.4L592.5 518.0M594.5 522.6L592.5 518.0L590.0 522.4M615.4 531.5L615.4 518.9M617.7 523.3L615.4 518.9L613.1 523.3M638.5 533.2L638.5 517.5M640.8 522.0L638.5 517.5L636.3 522.0M661.6 532.4L661.6 518.0M663.9 522.5L661.6 518.0L659.4 522.5M557.0 552.3L556.7 537.8M559.1 542.2L556.7 537.8L554.5 542.3M580.0 551.8L580.3 537.8M582.5 542.3L580.3 537.8L577.9 542.2M603.9 552.6L602.2 536.6M605.0 540.8L602.2 536.6L600.5 541.3M626.7 552.3L625.5 537.1M628.1 541.4L625.5 537.1L623.6 541.7M650.3 551.8L648.1 536.6M651.0 540.7L648.1 536.6L646.5 541.3M671.8 552.3L672.3 537.4M674.4 542.0L672.3 537.4L669.9 541.8M569.3 572.0L569.3 556.8M571.6 561.3L569.3 556.8L567.1 561.3M592.5 572.5L592.5 556.3M594.7 560.8L592.5 556.3L590.2 560.8M616.1 572.5L614.4 556.3M617.1 560.5L614.4 556.3L612.6 561.0M638.5 572.5L638.5 556.3M640.8 560.8L638.5 556.3L636.3 560.8M661.6 571.5L661.3 556.8M663.7 561.2L661.3 556.8L659.1 561.3M557.5 587.7L555.8 575.9M558.7 580.0L555.8 575.9L554.2 580.6M580.6 589.8L579.5 578.3M582.2 582.5L579.5 578.3L577.7 582.9M603.9 590.1L602.6 577.1M605.3 581.3L602.6 577.1L600.8 581.8M626.7 589.4L625.5 578.3M628.3 582.5L625.5 578.3L623.8 582.9M649.5 589.8L649.2 577.6M651.6 582.0L649.2 577.6L647.0 582.1M672.3 589.4L672.3 577.9M674.6 582.4L672.3 577.9L670.0 582.4M568.8 602.9L568.5 596.8M569.9 599.2L568.5 596.8L567.4 599.3M591.8 602.9L591.8 597.9M592.8 599.9L591.8 597.9L590.8 599.9M614.9 602.9L614.1 596.2M615.8 598.7L614.1 596.2L613.0 599.0M638.0 602.9L637.7 598.2M638.8 600.0L637.7 598.2L636.9 600.2M661.3 602.9L661.0 594.0M662.9 597.5L661.0 594.0L659.3 597.6" fill="none" stroke="#000" stroke-width="0.65"/></g>
<polygon points="422.5,287.0 424.0,291.2 428.5,291.4 425.0,294.1 426.2,298.4 422.5,295.9 418.8,298.4 420.0,294.1 416.5,291.4 421.0,291.2" fill="none" stroke="#000" stroke-width="0.9"/>
<polygon points="458.5,445.2 460.0,449.4 464.5,449.6 461.0,452.3 462.2,456.6 458.5,454.1 454.8,456.6 456.0,452.3 452.5,449.6 457.0,449.4" fill="none" stroke="#000" stroke-width="0.9"/>
<g shape-rendering="crispEdges">
<rect x="162.00" y="627.8" width="32.19" height="14.00" fill="#0000ff" stroke="#222" stroke-width="0.55"/>
<rect x="194.19" y="627.8" width="32.19" height="14.00" fill="#0064ff" stroke="#222" stroke-width="0.55"/>
<rect x="226.38" y="627.8" width="32.19" height="14.00" fill="#00c8ff" stroke="#222" stroke-width="0.55"/>
<rect x="258.56" y="627.8" width="32.19" height="14.00" fill="#00ebd2" stroke="#222" stroke-width="0.55"/>
<rect x="290.75" y="627.8" width="32.19" height="14.00" fill="#00c864" stroke="#222" stroke-width="0.55"/>
<rect x="322.94" y="627.8" width="32.19" height="14.00" fill="#06b016" stroke="#222" stroke-width="0.55"/>
<rect x="355.12" y="627.8" width="32.19" height="14.00" fill="#68d008" stroke="#222" stroke-width="0.55"/>
<rect x="387.31" y="627.8" width="32.19" height="14.00" fill="#c8f000" stroke="#222" stroke-width="0.55"/>
<rect x="419.50" y="627.8" width="32.19" height="14.00" fill="#fff000" stroke="#222" stroke-width="0.55"/>
<rect x="451.69" y="627.8" width="32.19" height="14.00" fill="#ffc800" stroke="#222" stroke-width="0.55"/>
<rect x="483.88" y="627.8" width="32.19" height="14.00" fill="#ffa000" stroke="#222" stroke-width="0.55"/>
<rect x="516.06" y="627.8" width="32.19" height="14.00" fill="#ff6400" stroke="#222" stroke-width="0.55"/>
<rect x="548.25" y="627.8" width="32.19" height="14.00" fill="#ff1e00" stroke="#222" stroke-width="0.55"/>
<rect x="580.44" y="627.8" width="32.19" height="14.00" fill="#dc001e" stroke="#222" stroke-width="0.55"/>
<rect x="612.62" y="627.8" width="32.19" height="14.00" fill="#a0005a" stroke="#222" stroke-width="0.55"/>
<rect x="644.81" y="627.8" width="32.19" height="14.00" fill="#5a0082" stroke="#222" stroke-width="0.55"/>
</g>
<text class="lb" x="194.49" y="656.5" text-anchor="middle">0.1</text>
<text class="lb" x="258.86" y="656.5" text-anchor="middle">0.2</text>
<text class="lb" x="323.24" y="656.5" text-anchor="middle">0.3</text>
<text class="lb" x="387.61" y="656.5" text-anchor="middle">0.4</text>
<text class="lb" x="451.99" y="656.5" text-anchor="middle">0.5</text>
<text class="lb" x="516.36" y="656.5" text-anchor="middle">0.6</text>
<text class="lb" x="580.74" y="656.5" text-anchor="middle">0.7</text>
<text class="lb" x="645.11" y="656.5" text-anchor="middle">0.8</text>

<text class="t1" x="301.5" y="26.5">2023/3/23/23UTC (17LT), Thursday</text>
<text class="t1" x="301.5" y="42.5">FV3m0b0l0_GFS025</text>
<text class="t2" x="154" y="64.6">volumetric soil moisture 0-10cm</text>
<text class="t2" x="686" y="64.6" text-anchor="end">fraction</text>
<text class="ll" x="144.6" y="237.8" text-anchor="end">36°N</text>
<text class="ll" x="144.6" y="502.3" text-anchor="end">32°N</text>
<text class="lb" x="163" y="624.2" text-anchor="middle">102°W</text>
<text class="lb" x="390.5" y="624.2" text-anchor="middle">98°W</text>
<text class="lb" x="617" y="624.2" text-anchor="middle">94°W</text>
<text class="lb" x="218.9" y="619.3" textLength="122.6" lengthAdjust="spacing" style="font-size:13.9px">Min= .0636 Max= 1</text>
<rect x="153.6" y="72.5" width="530.9" height="530.6" fill="none" stroke="#000" stroke-width="1.2"/>
<rect x="658.4" y="72.6" width="29" height="38.7" fill="#fff" stroke="#555" stroke-width="0.6"/>
<text class="lb" x="672.8" y="86" text-anchor="middle">8</text>
<path d="M661.8 97.4H682.5M679.5 95L684 97.4L679.5 99.8Z" fill="none" stroke="#000" stroke-width="0.6"/>
</svg>
</body></html>
